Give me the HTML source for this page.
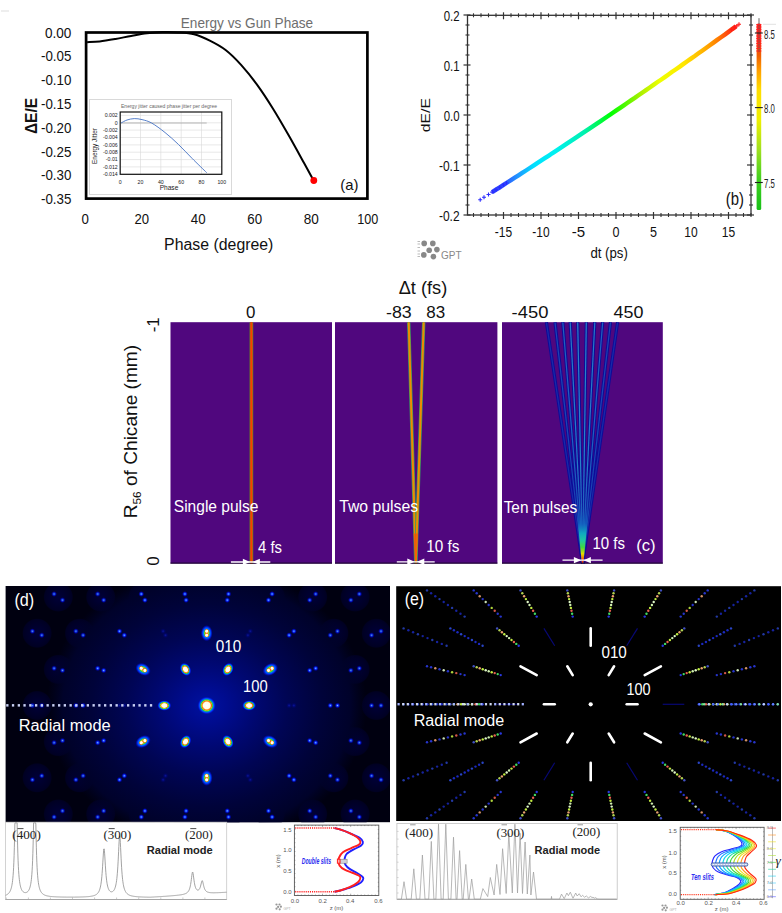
<!DOCTYPE html>
<html><head><meta charset="utf-8"><title>Figure</title>
<style>html,body{margin:0;padding:0;background:#fff;}body{width:782px;height:913px;overflow:hidden;}
svg{display:block;font-family:"Liberation Sans", sans-serif;}</style></head>
<body><svg width="782" height="913" viewBox="0 0 782 913">
<rect x="0" y="0" width="782" height="913" fill="#fff"/>
<line x1="1" y1="11" x2="9" y2="11" stroke="#ddd" stroke-width="1"/>
<text x="180.8" y="28" font-size="14.4" fill="#6e6e6e" textLength="132.4" lengthAdjust="spacingAndGlyphs">Energy vs Gun Phase</text>
<text x="71.4" y="37.7" font-size="14" fill="#111" text-anchor="end" textLength="26.4" lengthAdjust="spacingAndGlyphs">0.00</text>
<text x="71.4" y="61.4" font-size="14" fill="#111" text-anchor="end" textLength="30.4" lengthAdjust="spacingAndGlyphs">-0.05</text>
<text x="71.4" y="85.2" font-size="14" fill="#111" text-anchor="end" textLength="30.4" lengthAdjust="spacingAndGlyphs">-0.10</text>
<text x="71.4" y="109.0" font-size="14" fill="#111" text-anchor="end" textLength="30.4" lengthAdjust="spacingAndGlyphs">-0.15</text>
<text x="71.4" y="132.7" font-size="14" fill="#111" text-anchor="end" textLength="30.4" lengthAdjust="spacingAndGlyphs">-0.20</text>
<text x="71.4" y="156.5" font-size="14" fill="#111" text-anchor="end" textLength="30.4" lengthAdjust="spacingAndGlyphs">-0.25</text>
<text x="71.4" y="180.2" font-size="14" fill="#111" text-anchor="end" textLength="30.4" lengthAdjust="spacingAndGlyphs">-0.30</text>
<text x="71.4" y="204.0" font-size="14" fill="#111" text-anchor="end" textLength="30.4" lengthAdjust="spacingAndGlyphs">-0.35</text>
<text x="85.2" y="224.2" font-size="14" fill="#111" text-anchor="middle" textLength="7.4" lengthAdjust="spacingAndGlyphs">0</text>
<text x="141.7" y="224.2" font-size="14" fill="#111" text-anchor="middle" textLength="14.6" lengthAdjust="spacingAndGlyphs">20</text>
<text x="198.2" y="224.2" font-size="14" fill="#111" text-anchor="middle" textLength="14.8" lengthAdjust="spacingAndGlyphs">40</text>
<text x="254.7" y="224.2" font-size="14" fill="#111" text-anchor="middle" textLength="14.8" lengthAdjust="spacingAndGlyphs">60</text>
<text x="311.2" y="224.2" font-size="14" fill="#111" text-anchor="middle" textLength="15.1" lengthAdjust="spacingAndGlyphs">80</text>
<text x="367.7" y="224.2" font-size="14" fill="#111" text-anchor="middle" textLength="21.1" lengthAdjust="spacingAndGlyphs">100</text>
<text x="164.1" y="249.6" font-size="15.8" fill="#111" textLength="109.3" lengthAdjust="spacingAndGlyphs">Phase (degree)</text>
<text transform="translate(37,116) rotate(-90)" text-anchor="middle" font-size="16.5" font-weight="bold" fill="#111" textLength="36.2" lengthAdjust="spacingAndGlyphs">ΔE/E</text>
<path d="M87.10,42.20 C89.20,42.08 94.97,42.03 99.70,41.50 C104.43,40.97 110.25,39.93 115.50,39.00 C120.75,38.07 125.97,36.85 131.20,35.90 C136.43,34.95 141.67,33.93 146.90,33.30 C152.13,32.67 157.35,32.25 162.60,32.10 C167.85,31.95 173.15,32.03 178.40,32.40 C183.65,32.77 188.87,32.93 194.10,34.30 C199.33,35.67 204.55,37.98 209.80,40.60 C215.05,43.22 220.35,45.92 225.60,50.00 C230.85,54.08 236.07,59.33 241.30,65.10 C246.53,70.87 251.77,77.42 257.00,84.60 C262.23,91.78 267.45,99.80 272.70,108.20 C277.95,116.60 283.25,125.82 288.50,135.00 C293.75,144.18 300.02,155.70 304.20,163.30 C308.38,170.90 312.03,177.72 313.60,180.60" fill="none" stroke="#000" stroke-width="2"/>
<rect x="86.1" y="32.5" width="281.3" height="166.1" fill="none" stroke="#000" stroke-width="2.7"/>
<circle cx="313.8" cy="180.5" r="3.4" fill="#f00"/>
<text x="340.2" y="189.8" font-size="14.8" fill="#111" textLength="18.2" lengthAdjust="spacingAndGlyphs">(a)</text>
<rect x="89.5" y="99.5" width="142" height="95" fill="#fff" stroke="#d9d9d9" stroke-width="1"/>
<text x="121" y="107.5" font-size="5.9" fill="#666" textLength="96" lengthAdjust="spacingAndGlyphs">Energy jitter caused phase jitter per degree</text>
<line x1="140.5" y1="112" x2="140.5" y2="174.3" stroke="#d9d9d9" stroke-width="0.6"/>
<line x1="160.8" y1="112" x2="160.8" y2="174.3" stroke="#d9d9d9" stroke-width="0.6"/>
<line x1="181.2" y1="112" x2="181.2" y2="174.3" stroke="#d9d9d9" stroke-width="0.6"/>
<line x1="201.5" y1="112" x2="201.5" y2="174.3" stroke="#d9d9d9" stroke-width="0.6"/>
<line x1="120.2" y1="115.4" x2="221.8" y2="115.4" stroke="#d9d9d9" stroke-width="0.6"/>
<text x="117.7" y="117.2" text-anchor="end" font-size="5.2" fill="#222">0.002</text>
<line x1="120.2" y1="122.8" x2="221.8" y2="122.8" stroke="#d9d9d9" stroke-width="0.6"/>
<text x="117.7" y="124.6" text-anchor="end" font-size="5.2" fill="#222">0</text>
<line x1="120.2" y1="130.1" x2="221.8" y2="130.1" stroke="#d9d9d9" stroke-width="0.6"/>
<text x="117.7" y="131.9" text-anchor="end" font-size="5.2" fill="#222">-0.002</text>
<line x1="120.2" y1="137.5" x2="221.8" y2="137.5" stroke="#d9d9d9" stroke-width="0.6"/>
<text x="117.7" y="139.3" text-anchor="end" font-size="5.2" fill="#222">-0.004</text>
<line x1="120.2" y1="144.9" x2="221.8" y2="144.9" stroke="#d9d9d9" stroke-width="0.6"/>
<text x="117.7" y="146.7" text-anchor="end" font-size="5.2" fill="#222">-0.006</text>
<line x1="120.2" y1="152.2" x2="221.8" y2="152.2" stroke="#d9d9d9" stroke-width="0.6"/>
<text x="117.7" y="154.0" text-anchor="end" font-size="5.2" fill="#222">-0.008</text>
<line x1="120.2" y1="159.6" x2="221.8" y2="159.6" stroke="#d9d9d9" stroke-width="0.6"/>
<text x="117.7" y="161.4" text-anchor="end" font-size="5.2" fill="#222">-0.01</text>
<line x1="120.2" y1="166.9" x2="221.8" y2="166.9" stroke="#d9d9d9" stroke-width="0.6"/>
<text x="117.7" y="168.7" text-anchor="end" font-size="5.2" fill="#222">-0.012</text>
<line x1="120.2" y1="174.3" x2="221.8" y2="174.3" stroke="#d9d9d9" stroke-width="0.6"/>
<text x="117.7" y="176.1" text-anchor="end" font-size="5.2" fill="#222">-0.014</text>
<text x="120.2" y="184" text-anchor="middle" font-size="5.2" fill="#222">0</text>
<text x="140.5" y="184" text-anchor="middle" font-size="5.2" fill="#222">20</text>
<text x="160.8" y="184" text-anchor="middle" font-size="5.2" fill="#222">40</text>
<text x="181.2" y="184" text-anchor="middle" font-size="5.2" fill="#222">60</text>
<text x="201.5" y="184" text-anchor="middle" font-size="5.2" fill="#222">80</text>
<text x="221.8" y="184" text-anchor="middle" font-size="5.2" fill="#222">100</text>
<text x="169" y="190.3" text-anchor="middle" font-size="6.6" fill="#222">Phase</text>
<text transform="translate(97,146) rotate(-90)" text-anchor="middle" font-size="6.4" fill="#222">Energy Jitter</text>
<line x1="121.1" y1="123" x2="206.7" y2="123" stroke="#a6a6a6" stroke-width="0.8"/>
<path d="M121.10,123.00 C122.08,122.50 124.80,120.73 127.00,120.00 C129.20,119.27 131.80,118.67 134.30,118.60 C136.80,118.53 139.12,118.87 142.00,119.60 C144.88,120.33 147.77,120.85 151.60,123.00 C155.43,125.15 160.53,128.93 165.00,132.50 C169.47,136.07 173.90,140.10 178.40,144.40 C182.90,148.70 187.28,153.58 192.00,158.30 C196.72,163.02 204.25,170.30 206.70,172.70" fill="none" stroke="#4472c4" stroke-width="0.9"/>
<rect x="120.2" y="112" width="101.6" height="62.3" fill="none" stroke="#111" stroke-width="1.2"/>
<defs><linearGradient id="gb" gradientUnits="userSpaceOnUse" x1="480" y1="0" x2="739" y2="0"><stop offset="0.000" stop-color="#2828ff"/><stop offset="0.093" stop-color="#3050ff"/><stop offset="0.147" stop-color="#2098ff"/><stop offset="0.208" stop-color="#00e0ff"/><stop offset="0.290" stop-color="#00f0f0"/><stop offset="0.402" stop-color="#00f0b0"/><stop offset="0.506" stop-color="#00ff00"/><stop offset="0.625" stop-color="#b0f000"/><stop offset="0.695" stop-color="#eeff00"/><stop offset="0.784" stop-color="#ffe800"/><stop offset="0.865" stop-color="#ffb000"/><stop offset="0.915" stop-color="#ff8000"/><stop offset="0.961" stop-color="#ff4010"/><stop offset="1.000" stop-color="#ff1010"/></linearGradient></defs>
<path d="M492.2,192.1 L496.0,189.7 L499.8,187.3 L503.5,184.9 L507.2,182.5 L511.0,180.1 L514.8,177.7 L518.5,175.3 L522.2,172.9 L526.0,170.5 L529.8,168.0 L533.5,165.6 L537.2,163.1 L541.0,160.7 L544.8,158.2 L548.5,155.8 L552.2,153.3 L556.0,150.9 L559.8,148.4 L563.5,145.9 L567.2,143.4 L571.0,140.9 L574.8,138.4 L578.5,135.9 L582.2,133.4 L586.0,130.9 L589.8,128.4 L593.5,125.9 L597.2,123.4 L601.0,120.9 L604.8,118.3 L608.5,115.8 L612.2,113.2 L616.0,110.7 L619.8,108.1 L623.5,105.6 L627.2,103.0 L631.0,100.4 L634.8,97.9 L638.5,95.3 L642.2,92.7 L646.0,90.1 L649.8,87.5 L653.5,84.9 L657.2,82.3 L661.0,79.7 L664.8,77.1 L668.5,74.5 L672.2,71.8 L676.0,69.2 L679.8,66.6 L683.5,63.9 L687.2,61.3 L691.0,58.6 L694.8,56.0 L698.5,53.3 L702.2,50.7 L706.0,48.0 L709.8,45.3 L713.5,42.6 L717.2,39.9 L721.0,37.2 L724.8,34.6 L728.5,31.9 L732.2,29.1 L736.0,26.4" fill="none" stroke="url(#gb)" stroke-width="4.4"/>
<path d="M478.2,199.7 H482.2 M480.2,197.7 V201.7" stroke="#2a2aff" stroke-width="1.1"/>
<path d="M482.0,197.3 H486.0 M484.0,195.3 V199.3" stroke="#2a2aff" stroke-width="1.1"/>
<path d="M486.5,194.5 H490.5 M488.5,192.5 V196.5" stroke="#2a2aff" stroke-width="1.1"/>
<path d="M490.2,192.1 H494.2 M492.2,190.1 V194.1" stroke="#2a2aff" stroke-width="1.1"/>
<path d="M494.0,189.7 H498.0 M496.0,187.7 V191.7" stroke="#2a2aff" stroke-width="1.1"/>
<path d="M497.8,187.3 H501.8 M499.8,185.3 V189.3" stroke="#2a2aff" stroke-width="1.1"/>
<path d="M501.5,184.9 H505.5 M503.5,182.9 V186.9" stroke="#2a2aff" stroke-width="1.1"/>
<path d="M504.5,183.0 H508.5 M506.5,181.0 V185.0" stroke="#2a2aff" stroke-width="1.1"/>
<path d="M729.5,29.7 H733.5 M731.5,27.7 V31.7" stroke="#ff1a1a" stroke-width="1.1"/>
<path d="M732.5,27.5 H736.5 M734.5,25.5 V29.5" stroke="#ff1a1a" stroke-width="1.1"/>
<path d="M734.8,25.9 H738.8 M736.8,23.9 V27.9" stroke="#ff1a1a" stroke-width="1.1"/>
<path d="M737.0,24.3 H741.0 M739.0,22.3 V26.3" stroke="#ff1a1a" stroke-width="1.1"/>
<rect x="467.5" y="15.3" width="283.5" height="199.7" fill="none" stroke="#333" stroke-width="1.3"/>
<line x1="473.5" y1="213" x2="473.5" y2="217" stroke="#333" stroke-width="1.1"/>
<line x1="473.5" y1="13.3" x2="473.5" y2="17.3" stroke="#333" stroke-width="1.1"/>
<line x1="481.0" y1="213" x2="481.0" y2="217" stroke="#333" stroke-width="1.1"/>
<line x1="481.0" y1="13.3" x2="481.0" y2="17.3" stroke="#333" stroke-width="1.1"/>
<line x1="488.5" y1="213" x2="488.5" y2="217" stroke="#333" stroke-width="1.1"/>
<line x1="488.5" y1="13.3" x2="488.5" y2="17.3" stroke="#333" stroke-width="1.1"/>
<line x1="496.0" y1="213" x2="496.0" y2="217" stroke="#333" stroke-width="1.1"/>
<line x1="496.0" y1="13.3" x2="496.0" y2="17.3" stroke="#333" stroke-width="1.1"/>
<line x1="503.5" y1="212" x2="503.5" y2="219" stroke="#333" stroke-width="1.2"/>
<line x1="503.5" y1="12.3" x2="503.5" y2="19.3" stroke="#333" stroke-width="1.2"/>
<line x1="511.0" y1="213" x2="511.0" y2="217" stroke="#333" stroke-width="1.1"/>
<line x1="511.0" y1="13.3" x2="511.0" y2="17.3" stroke="#333" stroke-width="1.1"/>
<line x1="518.5" y1="213" x2="518.5" y2="217" stroke="#333" stroke-width="1.1"/>
<line x1="518.5" y1="13.3" x2="518.5" y2="17.3" stroke="#333" stroke-width="1.1"/>
<line x1="526.0" y1="213" x2="526.0" y2="217" stroke="#333" stroke-width="1.1"/>
<line x1="526.0" y1="13.3" x2="526.0" y2="17.3" stroke="#333" stroke-width="1.1"/>
<line x1="533.5" y1="213" x2="533.5" y2="217" stroke="#333" stroke-width="1.1"/>
<line x1="533.5" y1="13.3" x2="533.5" y2="17.3" stroke="#333" stroke-width="1.1"/>
<line x1="541.0" y1="212" x2="541.0" y2="219" stroke="#333" stroke-width="1.2"/>
<line x1="541.0" y1="12.3" x2="541.0" y2="19.3" stroke="#333" stroke-width="1.2"/>
<line x1="548.5" y1="213" x2="548.5" y2="217" stroke="#333" stroke-width="1.1"/>
<line x1="548.5" y1="13.3" x2="548.5" y2="17.3" stroke="#333" stroke-width="1.1"/>
<line x1="556.0" y1="213" x2="556.0" y2="217" stroke="#333" stroke-width="1.1"/>
<line x1="556.0" y1="13.3" x2="556.0" y2="17.3" stroke="#333" stroke-width="1.1"/>
<line x1="563.5" y1="213" x2="563.5" y2="217" stroke="#333" stroke-width="1.1"/>
<line x1="563.5" y1="13.3" x2="563.5" y2="17.3" stroke="#333" stroke-width="1.1"/>
<line x1="571.0" y1="213" x2="571.0" y2="217" stroke="#333" stroke-width="1.1"/>
<line x1="571.0" y1="13.3" x2="571.0" y2="17.3" stroke="#333" stroke-width="1.1"/>
<line x1="578.5" y1="212" x2="578.5" y2="219" stroke="#333" stroke-width="1.2"/>
<line x1="578.5" y1="12.3" x2="578.5" y2="19.3" stroke="#333" stroke-width="1.2"/>
<line x1="586.0" y1="213" x2="586.0" y2="217" stroke="#333" stroke-width="1.1"/>
<line x1="586.0" y1="13.3" x2="586.0" y2="17.3" stroke="#333" stroke-width="1.1"/>
<line x1="593.5" y1="213" x2="593.5" y2="217" stroke="#333" stroke-width="1.1"/>
<line x1="593.5" y1="13.3" x2="593.5" y2="17.3" stroke="#333" stroke-width="1.1"/>
<line x1="601.0" y1="213" x2="601.0" y2="217" stroke="#333" stroke-width="1.1"/>
<line x1="601.0" y1="13.3" x2="601.0" y2="17.3" stroke="#333" stroke-width="1.1"/>
<line x1="608.5" y1="213" x2="608.5" y2="217" stroke="#333" stroke-width="1.1"/>
<line x1="608.5" y1="13.3" x2="608.5" y2="17.3" stroke="#333" stroke-width="1.1"/>
<line x1="616.0" y1="212" x2="616.0" y2="219" stroke="#333" stroke-width="1.2"/>
<line x1="616.0" y1="12.3" x2="616.0" y2="19.3" stroke="#333" stroke-width="1.2"/>
<line x1="623.5" y1="213" x2="623.5" y2="217" stroke="#333" stroke-width="1.1"/>
<line x1="623.5" y1="13.3" x2="623.5" y2="17.3" stroke="#333" stroke-width="1.1"/>
<line x1="631.0" y1="213" x2="631.0" y2="217" stroke="#333" stroke-width="1.1"/>
<line x1="631.0" y1="13.3" x2="631.0" y2="17.3" stroke="#333" stroke-width="1.1"/>
<line x1="638.5" y1="213" x2="638.5" y2="217" stroke="#333" stroke-width="1.1"/>
<line x1="638.5" y1="13.3" x2="638.5" y2="17.3" stroke="#333" stroke-width="1.1"/>
<line x1="646.0" y1="213" x2="646.0" y2="217" stroke="#333" stroke-width="1.1"/>
<line x1="646.0" y1="13.3" x2="646.0" y2="17.3" stroke="#333" stroke-width="1.1"/>
<line x1="653.5" y1="212" x2="653.5" y2="219" stroke="#333" stroke-width="1.2"/>
<line x1="653.5" y1="12.3" x2="653.5" y2="19.3" stroke="#333" stroke-width="1.2"/>
<line x1="661.0" y1="213" x2="661.0" y2="217" stroke="#333" stroke-width="1.1"/>
<line x1="661.0" y1="13.3" x2="661.0" y2="17.3" stroke="#333" stroke-width="1.1"/>
<line x1="668.5" y1="213" x2="668.5" y2="217" stroke="#333" stroke-width="1.1"/>
<line x1="668.5" y1="13.3" x2="668.5" y2="17.3" stroke="#333" stroke-width="1.1"/>
<line x1="676.0" y1="213" x2="676.0" y2="217" stroke="#333" stroke-width="1.1"/>
<line x1="676.0" y1="13.3" x2="676.0" y2="17.3" stroke="#333" stroke-width="1.1"/>
<line x1="683.5" y1="213" x2="683.5" y2="217" stroke="#333" stroke-width="1.1"/>
<line x1="683.5" y1="13.3" x2="683.5" y2="17.3" stroke="#333" stroke-width="1.1"/>
<line x1="691.0" y1="212" x2="691.0" y2="219" stroke="#333" stroke-width="1.2"/>
<line x1="691.0" y1="12.3" x2="691.0" y2="19.3" stroke="#333" stroke-width="1.2"/>
<line x1="698.5" y1="213" x2="698.5" y2="217" stroke="#333" stroke-width="1.1"/>
<line x1="698.5" y1="13.3" x2="698.5" y2="17.3" stroke="#333" stroke-width="1.1"/>
<line x1="706.0" y1="213" x2="706.0" y2="217" stroke="#333" stroke-width="1.1"/>
<line x1="706.0" y1="13.3" x2="706.0" y2="17.3" stroke="#333" stroke-width="1.1"/>
<line x1="713.5" y1="213" x2="713.5" y2="217" stroke="#333" stroke-width="1.1"/>
<line x1="713.5" y1="13.3" x2="713.5" y2="17.3" stroke="#333" stroke-width="1.1"/>
<line x1="721.0" y1="213" x2="721.0" y2="217" stroke="#333" stroke-width="1.1"/>
<line x1="721.0" y1="13.3" x2="721.0" y2="17.3" stroke="#333" stroke-width="1.1"/>
<line x1="728.5" y1="212" x2="728.5" y2="219" stroke="#333" stroke-width="1.2"/>
<line x1="728.5" y1="12.3" x2="728.5" y2="19.3" stroke="#333" stroke-width="1.2"/>
<line x1="736.0" y1="213" x2="736.0" y2="217" stroke="#333" stroke-width="1.1"/>
<line x1="736.0" y1="13.3" x2="736.0" y2="17.3" stroke="#333" stroke-width="1.1"/>
<line x1="743.5" y1="213" x2="743.5" y2="217" stroke="#333" stroke-width="1.1"/>
<line x1="743.5" y1="13.3" x2="743.5" y2="17.3" stroke="#333" stroke-width="1.1"/>
<line x1="751.0" y1="213" x2="751.0" y2="217" stroke="#333" stroke-width="1.1"/>
<line x1="751.0" y1="13.3" x2="751.0" y2="17.3" stroke="#333" stroke-width="1.1"/>
<text x="503.5" y="236.5" font-size="15" fill="#111" text-anchor="middle" textLength="17.3" lengthAdjust="spacingAndGlyphs">-15</text>
<text x="541.0" y="236.5" font-size="15" fill="#111" text-anchor="middle" textLength="17.3" lengthAdjust="spacingAndGlyphs">-10</text>
<text x="578.5" y="236.5" font-size="15" fill="#111" text-anchor="middle" textLength="13.4" lengthAdjust="spacingAndGlyphs">-5</text>
<text x="616.0" y="236.5" font-size="15" fill="#111" text-anchor="middle" textLength="7.0" lengthAdjust="spacingAndGlyphs">0</text>
<text x="653.5" y="236.5" font-size="15" fill="#111" text-anchor="middle" textLength="7.0" lengthAdjust="spacingAndGlyphs">5</text>
<text x="691.0" y="236.5" font-size="15" fill="#111" text-anchor="middle" textLength="13.4" lengthAdjust="spacingAndGlyphs">10</text>
<text x="728.5" y="236.5" font-size="15" fill="#111" text-anchor="middle" textLength="13.4" lengthAdjust="spacingAndGlyphs">15</text>
<text x="590.4" y="257.5" font-size="14" fill="#111" textLength="37.4" lengthAdjust="spacingAndGlyphs">dt (ps)</text>
<line x1="463.5" y1="215.0" x2="470.5" y2="215.0" stroke="#333" stroke-width="1.2"/>
<line x1="747" y1="215.0" x2="754" y2="215.0" stroke="#333" stroke-width="1.2"/>
<line x1="465.5" y1="205.0" x2="469.5" y2="205.0" stroke="#333" stroke-width="1.1"/>
<line x1="749" y1="205.0" x2="753" y2="205.0" stroke="#333" stroke-width="1.1"/>
<line x1="465.5" y1="195.0" x2="469.5" y2="195.0" stroke="#333" stroke-width="1.1"/>
<line x1="749" y1="195.0" x2="753" y2="195.0" stroke="#333" stroke-width="1.1"/>
<line x1="465.5" y1="185.0" x2="469.5" y2="185.0" stroke="#333" stroke-width="1.1"/>
<line x1="749" y1="185.0" x2="753" y2="185.0" stroke="#333" stroke-width="1.1"/>
<line x1="465.5" y1="175.0" x2="469.5" y2="175.0" stroke="#333" stroke-width="1.1"/>
<line x1="749" y1="175.0" x2="753" y2="175.0" stroke="#333" stroke-width="1.1"/>
<line x1="463.5" y1="165.0" x2="470.5" y2="165.0" stroke="#333" stroke-width="1.2"/>
<line x1="747" y1="165.0" x2="754" y2="165.0" stroke="#333" stroke-width="1.2"/>
<line x1="465.5" y1="155.0" x2="469.5" y2="155.0" stroke="#333" stroke-width="1.1"/>
<line x1="749" y1="155.0" x2="753" y2="155.0" stroke="#333" stroke-width="1.1"/>
<line x1="465.5" y1="145.0" x2="469.5" y2="145.0" stroke="#333" stroke-width="1.1"/>
<line x1="749" y1="145.0" x2="753" y2="145.0" stroke="#333" stroke-width="1.1"/>
<line x1="465.5" y1="135.0" x2="469.5" y2="135.0" stroke="#333" stroke-width="1.1"/>
<line x1="749" y1="135.0" x2="753" y2="135.0" stroke="#333" stroke-width="1.1"/>
<line x1="465.5" y1="125.0" x2="469.5" y2="125.0" stroke="#333" stroke-width="1.1"/>
<line x1="749" y1="125.0" x2="753" y2="125.0" stroke="#333" stroke-width="1.1"/>
<line x1="463.5" y1="115.0" x2="470.5" y2="115.0" stroke="#333" stroke-width="1.2"/>
<line x1="747" y1="115.0" x2="754" y2="115.0" stroke="#333" stroke-width="1.2"/>
<line x1="465.5" y1="105.0" x2="469.5" y2="105.0" stroke="#333" stroke-width="1.1"/>
<line x1="749" y1="105.0" x2="753" y2="105.0" stroke="#333" stroke-width="1.1"/>
<line x1="465.5" y1="95.0" x2="469.5" y2="95.0" stroke="#333" stroke-width="1.1"/>
<line x1="749" y1="95.0" x2="753" y2="95.0" stroke="#333" stroke-width="1.1"/>
<line x1="465.5" y1="85.0" x2="469.5" y2="85.0" stroke="#333" stroke-width="1.1"/>
<line x1="749" y1="85.0" x2="753" y2="85.0" stroke="#333" stroke-width="1.1"/>
<line x1="465.5" y1="75.0" x2="469.5" y2="75.0" stroke="#333" stroke-width="1.1"/>
<line x1="749" y1="75.0" x2="753" y2="75.0" stroke="#333" stroke-width="1.1"/>
<line x1="463.5" y1="65.0" x2="470.5" y2="65.0" stroke="#333" stroke-width="1.2"/>
<line x1="747" y1="65.0" x2="754" y2="65.0" stroke="#333" stroke-width="1.2"/>
<line x1="465.5" y1="55.0" x2="469.5" y2="55.0" stroke="#333" stroke-width="1.1"/>
<line x1="749" y1="55.0" x2="753" y2="55.0" stroke="#333" stroke-width="1.1"/>
<line x1="465.5" y1="45.0" x2="469.5" y2="45.0" stroke="#333" stroke-width="1.1"/>
<line x1="749" y1="45.0" x2="753" y2="45.0" stroke="#333" stroke-width="1.1"/>
<line x1="465.5" y1="35.0" x2="469.5" y2="35.0" stroke="#333" stroke-width="1.1"/>
<line x1="749" y1="35.0" x2="753" y2="35.0" stroke="#333" stroke-width="1.1"/>
<line x1="465.5" y1="25.0" x2="469.5" y2="25.0" stroke="#333" stroke-width="1.1"/>
<line x1="749" y1="25.0" x2="753" y2="25.0" stroke="#333" stroke-width="1.1"/>
<line x1="463.5" y1="15.0" x2="470.5" y2="15.0" stroke="#333" stroke-width="1.2"/>
<line x1="747" y1="15.0" x2="754" y2="15.0" stroke="#333" stroke-width="1.2"/>
<text x="459.6" y="20.6" font-size="15" fill="#111" text-anchor="end" textLength="15.9" lengthAdjust="spacingAndGlyphs">0.2</text>
<text x="459.6" y="70.6" font-size="15" fill="#111" text-anchor="end" textLength="15.9" lengthAdjust="spacingAndGlyphs">0.1</text>
<text x="459.6" y="120.6" font-size="15" fill="#111" text-anchor="end" textLength="15.9" lengthAdjust="spacingAndGlyphs">0.0</text>
<text x="459.6" y="170.6" font-size="15" fill="#111" text-anchor="end" textLength="20.7" lengthAdjust="spacingAndGlyphs">-0.1</text>
<text x="459.6" y="220.6" font-size="15" fill="#111" text-anchor="end" textLength="20.7" lengthAdjust="spacingAndGlyphs">-0.2</text>
<text transform="translate(430.1,115.2) rotate(-90)" text-anchor="middle" font-size="13.7" fill="#111" textLength="34.3" lengthAdjust="spacingAndGlyphs">dE/E</text>
<text x="725.8" y="204.8" font-size="18" fill="#111" textLength="18.2" lengthAdjust="spacingAndGlyphs">(b)</text>
<defs><linearGradient id="cb" gradientUnits="userSpaceOnUse" x1="0" y1="210" x2="0" y2="22"><stop offset="0" stop-color="#18c018"/><stop offset="0.16" stop-color="#40d020"/><stop offset="0.32" stop-color="#a0e020"/><stop offset="0.48" stop-color="#f0f000"/><stop offset="0.64" stop-color="#ffdd00"/><stop offset="0.74" stop-color="#ffa000"/><stop offset="0.82" stop-color="#f06000"/><stop offset="0.9" stop-color="#ff3020"/><stop offset="1" stop-color="#ff2020"/></linearGradient></defs>
<rect x="756.6" y="23.5" width="4.6" height="186.5" rx="1.5" fill="url(#cb)"/>
<line x1="759" y1="18.2" x2="759" y2="52" stroke="#555" stroke-width="0.9"/>
<line x1="756.2" y1="24.5" x2="761.4" y2="24.5" stroke="#ff2020" stroke-width="0.9"/>
<line x1="756.2" y1="27" x2="761.4" y2="27" stroke="#ff2020" stroke-width="0.9"/>
<line x1="756.2" y1="29.5" x2="761.4" y2="29.5" stroke="#ff2020" stroke-width="0.9"/>
<line x1="756.2" y1="32" x2="761.4" y2="32" stroke="#ff2020" stroke-width="0.9"/>
<line x1="756.2" y1="36" x2="761.4" y2="36" stroke="#ff2020" stroke-width="0.9"/>
<line x1="756.2" y1="38.5" x2="761.4" y2="38.5" stroke="#ff2020" stroke-width="0.9"/>
<line x1="756.2" y1="41" x2="761.4" y2="41" stroke="#ff2020" stroke-width="0.9"/>
<line x1="756.2" y1="43.5" x2="761.4" y2="43.5" stroke="#ff2020" stroke-width="0.9"/>
<line x1="756.2" y1="46" x2="761.4" y2="46" stroke="#ff2020" stroke-width="0.9"/>
<line x1="756.2" y1="48.5" x2="761.4" y2="48.5" stroke="#ff2020" stroke-width="0.9"/>
<line x1="756.2" y1="51" x2="761.4" y2="51" stroke="#ff2020" stroke-width="0.9"/>
<line x1="754.9" y1="33.0" x2="762.8" y2="33.0" stroke="#222" stroke-width="1.1"/>
<text x="764.1" y="38.6" font-size="13.7" fill="#222" textLength="10.8" lengthAdjust="spacingAndGlyphs">8.5</text>
<line x1="754.9" y1="107.6" x2="762.8" y2="107.6" stroke="#222" stroke-width="1.1"/>
<text x="764.1" y="113.2" font-size="13.7" fill="#222" textLength="10.8" lengthAdjust="spacingAndGlyphs">8.0</text>
<line x1="754.9" y1="182.5" x2="762.8" y2="182.5" stroke="#222" stroke-width="1.1"/>
<text x="764.1" y="188.1" font-size="13.7" fill="#222" textLength="10.8" lengthAdjust="spacingAndGlyphs">7.5</text>
<line x1="763" y1="24.3" x2="776" y2="24.3" stroke="#ccc" stroke-width="0.6"/>
<circle cx="424.2" cy="243.4" r="2.8" fill="#888"/>
<circle cx="432.8" cy="243.4" r="2.8" fill="#888"/>
<circle cx="429.2" cy="250.3" r="2.8" fill="#888"/>
<circle cx="436.9" cy="249.6" r="2.8" fill="#888"/>
<circle cx="423.8" cy="254.9" r="2.8" fill="#888"/>
<circle cx="433.4" cy="256.6" r="2.8" fill="#888"/>
<line x1="417.5" y1="241.5" x2="420" y2="241.5" stroke="#aaa" stroke-width="0.8"/>
<line x1="417.5" y1="244" x2="420" y2="244" stroke="#aaa" stroke-width="0.8"/>
<line x1="417.5" y1="247.5" x2="420" y2="247.5" stroke="#aaa" stroke-width="0.8"/>
<line x1="417.5" y1="251" x2="420" y2="251" stroke="#aaa" stroke-width="0.8"/>
<line x1="417.5" y1="254" x2="420" y2="254" stroke="#aaa" stroke-width="0.8"/>
<line x1="417.5" y1="256.5" x2="420" y2="256.5" stroke="#aaa" stroke-width="0.8"/>
<text x="441" y="259" font-size="10" fill="#888">GPT</text>
<text x="398.7" y="294" font-size="17.5" fill="#111" textLength="48.5" lengthAdjust="spacingAndGlyphs">Δt (fs)</text>
<text transform="translate(136.5,518.3) rotate(-90)" font-size="18.5" fill="#111" textLength="173.4" lengthAdjust="spacingAndGlyphs">R<tspan font-size="11.5" dy="4">56</tspan><tspan dy="-4"> of Chicane (mm)</tspan></text>
<text transform="translate(158.8,324.8) rotate(-90)" text-anchor="middle" font-size="17" fill="#111">-1</text>
<text transform="translate(158.8,561) rotate(-90)" text-anchor="middle" font-size="17" fill="#111">0</text>
<rect x="170.5" y="322.2" width="161.5" height="241.4" fill="#50077e"/>
<rect x="335" y="322.2" width="162.4" height="241.4" fill="#50077e"/>
<rect x="502" y="322.2" width="160.8" height="241.4" fill="#50077e"/>
<text x="245.9" y="318" font-size="17" fill="#111" textLength="9.4" lengthAdjust="spacingAndGlyphs">0</text>
<text x="386" y="318" font-size="17" fill="#111" textLength="25.7" lengthAdjust="spacingAndGlyphs">-83</text>
<text x="426.2" y="318" font-size="17" fill="#111" textLength="18.9" lengthAdjust="spacingAndGlyphs">83</text>
<text x="511.6" y="318" font-size="17" fill="#111" textLength="36.8" lengthAdjust="spacingAndGlyphs">-450</text>
<text x="613.6" y="318" font-size="17" fill="#111" textLength="29.9" lengthAdjust="spacingAndGlyphs">450</text>
<line x1="251.4" y1="322.2" x2="251.4" y2="563.6" stroke="#6a8a20" stroke-width="3.6"/>
<line x1="251.4" y1="322.2" x2="251.4" y2="563.6" stroke="#ff3a00" stroke-width="2"/>
<line x1="408.7" y1="322.2" x2="415.8" y2="563.6" stroke="#3a9a60" stroke-width="3.4"/>
<line x1="408.7" y1="322.2" x2="415.8" y2="563.6" stroke="#f08a00" stroke-width="2"/>
<line x1="423.7" y1="322.2" x2="415.8" y2="563.6" stroke="#3a9a60" stroke-width="3.4"/>
<line x1="423.7" y1="322.2" x2="415.8" y2="563.6" stroke="#f08a00" stroke-width="2"/>
<path d="M413.5,533.6 L418,533.6 L416.5,563.6 L415,563.6 Z" fill="#ff5000" opacity="0.7"/>
<defs><linearGradient id="cone" gradientUnits="userSpaceOnUse" x1="0" y1="470" x2="0" y2="563"><stop offset="0" stop-color="#0a1aa0" stop-opacity="0.0"/><stop offset="0.4" stop-color="#0c2aa8" stop-opacity="0.35"/><stop offset="0.58" stop-color="#1060c0" stop-opacity="0.8"/><stop offset="0.68" stop-color="#10a8c0"/><stop offset="0.76" stop-color="#20c8a0"/><stop offset="0.83" stop-color="#40d840"/><stop offset="0.9" stop-color="#e0e000"/><stop offset="0.96" stop-color="#ff6000"/><stop offset="1" stop-color="#ff2000"/></linearGradient></defs>
<line x1="546.4" y1="322.2" x2="582.6" y2="563.6" stroke="#0c0c98" stroke-width="3.2"/>
<line x1="555" y1="322.2" x2="582.6" y2="563.6" stroke="#0c0c98" stroke-width="3.2"/>
<line x1="562.8" y1="322.2" x2="582.6" y2="563.6" stroke="#0c0c98" stroke-width="3.2"/>
<line x1="570.2" y1="322.2" x2="582.6" y2="563.6" stroke="#0c0c98" stroke-width="3.2"/>
<line x1="577.7" y1="322.2" x2="582.6" y2="563.6" stroke="#0c0c98" stroke-width="3.2"/>
<line x1="586.3" y1="322.2" x2="582.6" y2="563.6" stroke="#0c0c98" stroke-width="3.2"/>
<line x1="594.8" y1="322.2" x2="582.6" y2="563.6" stroke="#0c0c98" stroke-width="3.2"/>
<line x1="602.7" y1="322.2" x2="582.6" y2="563.6" stroke="#0c0c98" stroke-width="3.2"/>
<line x1="610.5" y1="322.2" x2="582.6" y2="563.6" stroke="#0c0c98" stroke-width="3.2"/>
<line x1="617.6" y1="322.2" x2="582.6" y2="563.6" stroke="#0c0c98" stroke-width="3.2"/>
<line x1="546.4" y1="322.2" x2="582.6" y2="563.6" stroke="#1a2aa8" stroke-width="1.2"/>
<line x1="555" y1="322.2" x2="582.6" y2="563.6" stroke="#1c44b4" stroke-width="1.2"/>
<line x1="562.8" y1="322.2" x2="582.6" y2="563.6" stroke="#2060c0" stroke-width="1.2"/>
<line x1="570.2" y1="322.2" x2="582.6" y2="563.6" stroke="#2878c8" stroke-width="1.2"/>
<line x1="577.7" y1="322.2" x2="582.6" y2="563.6" stroke="#2a80c8" stroke-width="1.2"/>
<line x1="586.3" y1="322.2" x2="582.6" y2="563.6" stroke="#2a80c8" stroke-width="1.2"/>
<line x1="594.8" y1="322.2" x2="582.6" y2="563.6" stroke="#2878c8" stroke-width="1.2"/>
<line x1="602.7" y1="322.2" x2="582.6" y2="563.6" stroke="#2060c0" stroke-width="1.2"/>
<line x1="610.5" y1="322.2" x2="582.6" y2="563.6" stroke="#1c44b4" stroke-width="1.2"/>
<line x1="617.6" y1="322.2" x2="582.6" y2="563.6" stroke="#1a2aa8" stroke-width="1.2"/>
<path d="M572.5,470 L593,470 L583.3,563.6 L581.9,563.6 Z" fill="url(#cone)"/>
<line x1="170.5" y1="563.1" x2="332" y2="563.1" stroke="#180828" stroke-width="1"/>
<line x1="335" y1="563.1" x2="497.4" y2="563.1" stroke="#180828" stroke-width="1"/>
<line x1="502" y1="563.1" x2="662.8" y2="563.1" stroke="#180828" stroke-width="1"/>
<text x="173.8" y="512.4" font-size="17" fill="#fff" textLength="84.7" lengthAdjust="spacingAndGlyphs">Single pulse</text>
<text x="339.2" y="512.4" font-size="17" fill="#fff" textLength="79" lengthAdjust="spacingAndGlyphs">Two pulses</text>
<text x="503.7" y="512.6" font-size="17" fill="#fff" textLength="73.5" lengthAdjust="spacingAndGlyphs">Ten pulses</text>
<text x="258" y="553.3" font-size="15.7" fill="#fff" textLength="24" lengthAdjust="spacingAndGlyphs">4 fs</text>
<text x="426.2" y="551.8" font-size="15.7" fill="#fff" textLength="33.2" lengthAdjust="spacingAndGlyphs">10 fs</text>
<text x="592.4" y="549.4" font-size="15.7" fill="#fff" textLength="32.5" lengthAdjust="spacingAndGlyphs">10 fs</text>
<text x="636.2" y="551.2" font-size="16.5" fill="#fff" textLength="19.4" lengthAdjust="spacingAndGlyphs">(c)</text>
<line x1="230.9" y1="562.0" x2="270.3" y2="562.0" stroke="#fff" stroke-width="1.3"/>
<path d="M250.20000000000002,562.0 L242.9,558.7 L242.9,565.1 Z" fill="#fff"/>
<path d="M252.6,562.0 L259.9,558.7 L259.9,565.1 Z" fill="#fff"/>
<line x1="396.8" y1="561.8" x2="434.7" y2="561.8" stroke="#fff" stroke-width="1.3"/>
<path d="M414.6,561.8 L407.3,558.5 L407.3,564.9 Z" fill="#fff"/>
<path d="M417.0,561.8 L424.3,558.5 L424.3,564.9 Z" fill="#fff"/>
<line x1="562.5" y1="560.2" x2="602.6" y2="560.2" stroke="#fff" stroke-width="1.3"/>
<path d="M581.1999999999999,560.2 L573.9,556.9000000000001 L573.9,563.3000000000001 Z" fill="#fff"/>
<path d="M583.6,560.2 L590.9,556.9000000000001 L590.9,563.3000000000001 Z" fill="#fff"/>
<defs><clipPath id="cd"><rect x="5.6" y="586" width="384.4" height="236.2"/></clipPath><radialGradient id="dbg"><stop offset="0" stop-color="#0012a0"/><stop offset="0.12" stop-color="#000c90"/><stop offset="0.3" stop-color="#000872"/><stop offset="0.5" stop-color="#000554"/><stop offset="0.72" stop-color="#00033a"/><stop offset="0.9" stop-color="#00022a"/><stop offset="1" stop-color="#000226" stop-opacity="0"/></radialGradient><radialGradient id="halo"><stop offset="0" stop-color="#000038"/><stop offset="0.8" stop-color="#000026"/><stop offset="0.92" stop-color="#000022"/><stop offset="1" stop-color="#000020" stop-opacity="0"/></radialGradient><radialGradient id="dfaint"><stop offset="0" stop-color="#1828e0" stop-opacity="0.8"/><stop offset="0.5" stop-color="#0008b0" stop-opacity="0.4"/><stop offset="1" stop-color="#000080" stop-opacity="0"/></radialGradient><radialGradient id="dmed"><stop offset="0" stop-color="#80c0ff"/><stop offset="0.2" stop-color="#3070ff"/><stop offset="0.45" stop-color="#0a20f0"/><stop offset="0.7" stop-color="#0008c0" stop-opacity="0.55"/><stop offset="1" stop-color="#000090" stop-opacity="0"/></radialGradient><radialGradient id="dbright"><stop offset="0" stop-color="#ffffff"/><stop offset="0.36" stop-color="#fffce8"/><stop offset="0.44" stop-color="#ffb040"/><stop offset="0.5" stop-color="#ff5020"/><stop offset="0.56" stop-color="#a0e020"/><stop offset="0.62" stop-color="#20d040"/><stop offset="0.7" stop-color="#0070ff"/><stop offset="0.8" stop-color="#0030f0"/><stop offset="0.9" stop-color="#0010c0" stop-opacity="0.6"/><stop offset="1" stop-color="#0000a0" stop-opacity="0"/></radialGradient><radialGradient id="dglow"><stop offset="0" stop-color="#ff5020"/><stop offset="0.3" stop-color="#a0e020"/><stop offset="0.42" stop-color="#20d040"/><stop offset="0.55" stop-color="#0070ff"/><stop offset="0.72" stop-color="#0030f0"/><stop offset="0.87" stop-color="#0010c0" stop-opacity="0.6"/><stop offset="1" stop-color="#0000a0" stop-opacity="0"/></radialGradient><radialGradient id="dcore"><stop offset="0" stop-color="#ffffff"/><stop offset="0.5" stop-color="#fffce8"/><stop offset="0.7" stop-color="#ffb040"/><stop offset="0.88" stop-color="#ff5020" stop-opacity="0.8"/><stop offset="1" stop-color="#ff5020" stop-opacity="0"/></radialGradient></defs>
<rect x="5.6" y="586" width="384.4" height="236.2" fill="#000010"/>
<g clip-path="url(#cd)">
<circle cx="58.3" cy="597.0" r="15" fill="url(#halo)"/>
<circle cx="100.7" cy="597.0" r="15" fill="url(#halo)"/>
<circle cx="143.1" cy="597.0" r="15" fill="url(#halo)"/>
<circle cx="185.5" cy="597.0" r="15" fill="url(#halo)"/>
<circle cx="227.9" cy="597.0" r="15" fill="url(#halo)"/>
<circle cx="270.3" cy="597.0" r="15" fill="url(#halo)"/>
<circle cx="312.7" cy="597.0" r="15" fill="url(#halo)"/>
<circle cx="355.1" cy="597.0" r="15" fill="url(#halo)"/>
<circle cx="37.1" cy="633.2" r="15" fill="url(#halo)"/>
<circle cx="79.5" cy="633.2" r="15" fill="url(#halo)"/>
<circle cx="121.9" cy="633.2" r="15" fill="url(#halo)"/>
<circle cx="164.3" cy="633.2" r="20" fill="url(#halo)"/>
<circle cx="206.7" cy="633.2" r="20" fill="url(#halo)"/>
<circle cx="249.1" cy="633.2" r="20" fill="url(#halo)"/>
<circle cx="291.5" cy="633.2" r="15" fill="url(#halo)"/>
<circle cx="333.9" cy="633.2" r="15" fill="url(#halo)"/>
<circle cx="376.3" cy="633.2" r="15" fill="url(#halo)"/>
<circle cx="58.3" cy="669.4" r="15" fill="url(#halo)"/>
<circle cx="100.7" cy="669.4" r="15" fill="url(#halo)"/>
<circle cx="143.1" cy="669.4" r="20" fill="url(#halo)"/>
<circle cx="185.5" cy="669.4" r="20" fill="url(#halo)"/>
<circle cx="227.9" cy="669.4" r="20" fill="url(#halo)"/>
<circle cx="270.3" cy="669.4" r="20" fill="url(#halo)"/>
<circle cx="312.7" cy="669.4" r="15" fill="url(#halo)"/>
<circle cx="355.1" cy="669.4" r="15" fill="url(#halo)"/>
<circle cx="37.1" cy="705.5" r="15" fill="url(#halo)"/>
<circle cx="79.5" cy="705.5" r="15" fill="url(#halo)"/>
<circle cx="121.9" cy="705.5" r="20" fill="url(#halo)"/>
<circle cx="164.3" cy="705.5" r="20" fill="url(#halo)"/>
<circle cx="249.1" cy="705.5" r="20" fill="url(#halo)"/>
<circle cx="291.5" cy="705.5" r="20" fill="url(#halo)"/>
<circle cx="333.9" cy="705.5" r="15" fill="url(#halo)"/>
<circle cx="376.3" cy="705.5" r="15" fill="url(#halo)"/>
<circle cx="58.3" cy="741.6" r="15" fill="url(#halo)"/>
<circle cx="100.7" cy="741.6" r="15" fill="url(#halo)"/>
<circle cx="143.1" cy="741.6" r="20" fill="url(#halo)"/>
<circle cx="185.5" cy="741.6" r="20" fill="url(#halo)"/>
<circle cx="227.9" cy="741.6" r="20" fill="url(#halo)"/>
<circle cx="270.3" cy="741.6" r="20" fill="url(#halo)"/>
<circle cx="312.7" cy="741.6" r="15" fill="url(#halo)"/>
<circle cx="355.1" cy="741.6" r="15" fill="url(#halo)"/>
<circle cx="37.1" cy="777.8" r="15" fill="url(#halo)"/>
<circle cx="79.5" cy="777.8" r="15" fill="url(#halo)"/>
<circle cx="121.9" cy="777.8" r="15" fill="url(#halo)"/>
<circle cx="164.3" cy="777.8" r="20" fill="url(#halo)"/>
<circle cx="206.7" cy="777.8" r="20" fill="url(#halo)"/>
<circle cx="249.1" cy="777.8" r="20" fill="url(#halo)"/>
<circle cx="291.5" cy="777.8" r="15" fill="url(#halo)"/>
<circle cx="333.9" cy="777.8" r="15" fill="url(#halo)"/>
<circle cx="376.3" cy="777.8" r="15" fill="url(#halo)"/>
<circle cx="58.3" cy="814.0" r="15" fill="url(#halo)"/>
<circle cx="100.7" cy="814.0" r="15" fill="url(#halo)"/>
<circle cx="143.1" cy="814.0" r="15" fill="url(#halo)"/>
<circle cx="185.5" cy="814.0" r="15" fill="url(#halo)"/>
<circle cx="227.9" cy="814.0" r="15" fill="url(#halo)"/>
<circle cx="270.3" cy="814.0" r="15" fill="url(#halo)"/>
<circle cx="312.7" cy="814.0" r="15" fill="url(#halo)"/>
<circle cx="355.1" cy="814.0" r="15" fill="url(#halo)"/>
<ellipse cx="206.7" cy="705.5" rx="160" ry="140" fill="url(#dbg)"/>
<circle cx="62.5" cy="600.1" r="3.0" fill="url(#dmed)" opacity="0.85"/>
<circle cx="54.1" cy="594.0" r="3.0" fill="url(#dmed)" opacity="0.85"/>
<circle cx="103.7" cy="600.1" r="3.0" fill="url(#dmed)" opacity="0.85"/>
<circle cx="97.7" cy="594.0" r="3.0" fill="url(#dmed)" opacity="0.85"/>
<circle cx="144.9" cy="600.1" r="3.0" fill="url(#dmed)" opacity="1.0"/>
<circle cx="141.3" cy="594.0" r="3.0" fill="url(#dmed)" opacity="1.0"/>
<circle cx="186.1" cy="600.1" r="3.0" fill="url(#dmed)" opacity="1.0"/>
<circle cx="184.9" cy="594.0" r="3.0" fill="url(#dmed)" opacity="1.0"/>
<circle cx="227.3" cy="600.1" r="3.0" fill="url(#dmed)" opacity="1.0"/>
<circle cx="228.5" cy="594.0" r="3.0" fill="url(#dmed)" opacity="1.0"/>
<circle cx="268.5" cy="600.1" r="3.0" fill="url(#dmed)" opacity="1.0"/>
<circle cx="272.1" cy="594.0" r="3.0" fill="url(#dmed)" opacity="1.0"/>
<circle cx="309.7" cy="600.1" r="3.0" fill="url(#dmed)" opacity="0.85"/>
<circle cx="315.7" cy="594.0" r="3.0" fill="url(#dmed)" opacity="0.85"/>
<circle cx="350.9" cy="600.1" r="3.0" fill="url(#dmed)" opacity="0.85"/>
<circle cx="359.3" cy="594.0" r="3.0" fill="url(#dmed)" opacity="0.85"/>
<circle cx="41.8" cy="635.2" r="3.0" fill="url(#dmed)" opacity="0.85"/>
<circle cx="32.4" cy="631.2" r="3.0" fill="url(#dmed)" opacity="0.85"/>
<circle cx="83.1" cy="635.2" r="3.0" fill="url(#dmed)" opacity="0.85"/>
<circle cx="75.9" cy="631.2" r="3.0" fill="url(#dmed)" opacity="0.85"/>
<circle cx="124.3" cy="635.2" r="3.0" fill="url(#dmed)" opacity="1.0"/>
<circle cx="119.5" cy="631.2" r="3.0" fill="url(#dmed)" opacity="1.0"/>
<circle cx="165.5" cy="635.2" r="3" fill="url(#dfaint)" opacity="0.7"/>
<circle cx="163.1" cy="631.2" r="3" fill="url(#dfaint)" opacity="0.7"/>
<ellipse cx="0" cy="0" rx="8.2" ry="6" fill="url(#dglow)" transform="translate(206.7,633.2) rotate(-90.0)"/>
<circle cx="206.7" cy="635.2" r="2.3" fill="url(#dcore)"/>
<circle cx="206.7" cy="631.2" r="2.3" fill="url(#dcore)"/>
<circle cx="247.9" cy="635.2" r="3" fill="url(#dfaint)" opacity="0.7"/>
<circle cx="250.3" cy="631.2" r="3" fill="url(#dfaint)" opacity="0.7"/>
<circle cx="289.1" cy="635.2" r="3.0" fill="url(#dmed)" opacity="1.0"/>
<circle cx="293.9" cy="631.2" r="3.0" fill="url(#dmed)" opacity="1.0"/>
<circle cx="330.3" cy="635.2" r="3.0" fill="url(#dmed)" opacity="0.85"/>
<circle cx="337.5" cy="631.2" r="3.0" fill="url(#dmed)" opacity="0.85"/>
<circle cx="371.6" cy="635.2" r="3.0" fill="url(#dmed)" opacity="0.85"/>
<circle cx="381.0" cy="631.2" r="3.0" fill="url(#dmed)" opacity="0.85"/>
<circle cx="62.5" cy="670.4" r="3.0" fill="url(#dmed)" opacity="0.85"/>
<circle cx="54.1" cy="668.3" r="3.0" fill="url(#dmed)" opacity="0.85"/>
<circle cx="103.7" cy="670.4" r="3.0" fill="url(#dmed)" opacity="1.0"/>
<circle cx="97.7" cy="668.3" r="3.0" fill="url(#dmed)" opacity="1.0"/>
<ellipse cx="0" cy="0" rx="8.2" ry="6" fill="url(#dglow)" transform="translate(143.1,669.4) rotate(-150.4)"/>
<circle cx="144.9" cy="670.4" r="2.3" fill="url(#dcore)"/>
<circle cx="141.3" cy="668.3" r="2.3" fill="url(#dcore)"/>
<ellipse cx="0" cy="0" rx="7.2" ry="5.4" fill="url(#dbright)" transform="translate(185.5,669.4) rotate(-120.4)"/>
<ellipse cx="0" cy="0" rx="7.2" ry="5.4" fill="url(#dbright)" transform="translate(227.9,669.4) rotate(-59.6)"/>
<ellipse cx="0" cy="0" rx="8.2" ry="6" fill="url(#dglow)" transform="translate(270.3,669.4) rotate(-29.6)"/>
<circle cx="268.5" cy="670.4" r="2.3" fill="url(#dcore)"/>
<circle cx="272.1" cy="668.3" r="2.3" fill="url(#dcore)"/>
<circle cx="309.7" cy="670.4" r="3.0" fill="url(#dmed)" opacity="1.0"/>
<circle cx="315.7" cy="668.3" r="3.0" fill="url(#dmed)" opacity="1.0"/>
<circle cx="350.9" cy="670.4" r="3.0" fill="url(#dmed)" opacity="0.85"/>
<circle cx="359.3" cy="668.3" r="3.0" fill="url(#dmed)" opacity="0.85"/>
<circle cx="41.8" cy="705.5" r="3.0" fill="url(#dmed)" opacity="0.85"/>
<circle cx="32.4" cy="705.5" r="3.0" fill="url(#dmed)" opacity="0.85"/>
<circle cx="83.1" cy="705.5" r="3.0" fill="url(#dmed)" opacity="1.0"/>
<circle cx="75.9" cy="705.5" r="3.0" fill="url(#dmed)" opacity="1.0"/>
<circle cx="124.3" cy="705.5" r="3" fill="url(#dfaint)" opacity="0.7"/>
<circle cx="119.5" cy="705.5" r="3" fill="url(#dfaint)" opacity="0.7"/>
<ellipse cx="0" cy="0" rx="7.2" ry="5.4" fill="url(#dbright)" transform="translate(164.3,705.5) rotate(180.0)"/>
<ellipse cx="206.7" cy="705.5" rx="9.6" ry="9.3" fill="url(#dbright)"/>
<ellipse cx="0" cy="0" rx="7.2" ry="5.4" fill="url(#dbright)" transform="translate(249.1,705.5) rotate(0.0)"/>
<circle cx="289.1" cy="705.5" r="3" fill="url(#dfaint)" opacity="0.7"/>
<circle cx="293.9" cy="705.5" r="3" fill="url(#dfaint)" opacity="0.7"/>
<circle cx="330.3" cy="705.5" r="3.0" fill="url(#dmed)" opacity="1.0"/>
<circle cx="337.5" cy="705.5" r="3.0" fill="url(#dmed)" opacity="1.0"/>
<circle cx="371.6" cy="705.5" r="3.0" fill="url(#dmed)" opacity="0.85"/>
<circle cx="381.0" cy="705.5" r="3.0" fill="url(#dmed)" opacity="0.85"/>
<circle cx="62.5" cy="740.6" r="3.0" fill="url(#dmed)" opacity="0.85"/>
<circle cx="54.1" cy="742.7" r="3.0" fill="url(#dmed)" opacity="0.85"/>
<circle cx="103.7" cy="740.6" r="3.0" fill="url(#dmed)" opacity="1.0"/>
<circle cx="97.7" cy="742.7" r="3.0" fill="url(#dmed)" opacity="1.0"/>
<ellipse cx="0" cy="0" rx="8.2" ry="6" fill="url(#dglow)" transform="translate(143.1,741.6) rotate(150.4)"/>
<circle cx="144.9" cy="740.6" r="2.3" fill="url(#dcore)"/>
<circle cx="141.3" cy="742.7" r="2.3" fill="url(#dcore)"/>
<ellipse cx="0" cy="0" rx="7.2" ry="5.4" fill="url(#dbright)" transform="translate(185.5,741.6) rotate(120.4)"/>
<ellipse cx="0" cy="0" rx="7.2" ry="5.4" fill="url(#dbright)" transform="translate(227.9,741.6) rotate(59.6)"/>
<ellipse cx="0" cy="0" rx="8.2" ry="6" fill="url(#dglow)" transform="translate(270.3,741.6) rotate(29.6)"/>
<circle cx="268.5" cy="740.6" r="2.3" fill="url(#dcore)"/>
<circle cx="272.1" cy="742.7" r="2.3" fill="url(#dcore)"/>
<circle cx="309.7" cy="740.6" r="3.0" fill="url(#dmed)" opacity="1.0"/>
<circle cx="315.7" cy="742.7" r="3.0" fill="url(#dmed)" opacity="1.0"/>
<circle cx="350.9" cy="740.6" r="3.0" fill="url(#dmed)" opacity="0.85"/>
<circle cx="359.3" cy="742.7" r="3.0" fill="url(#dmed)" opacity="0.85"/>
<circle cx="41.8" cy="775.8" r="3.0" fill="url(#dmed)" opacity="0.85"/>
<circle cx="32.4" cy="779.8" r="3.0" fill="url(#dmed)" opacity="0.85"/>
<circle cx="83.1" cy="775.8" r="3.0" fill="url(#dmed)" opacity="0.85"/>
<circle cx="75.9" cy="779.8" r="3.0" fill="url(#dmed)" opacity="0.85"/>
<circle cx="124.3" cy="775.8" r="3.0" fill="url(#dmed)" opacity="1.0"/>
<circle cx="119.5" cy="779.8" r="3.0" fill="url(#dmed)" opacity="1.0"/>
<circle cx="165.5" cy="775.8" r="3" fill="url(#dfaint)" opacity="0.7"/>
<circle cx="163.1" cy="779.8" r="3" fill="url(#dfaint)" opacity="0.7"/>
<ellipse cx="0" cy="0" rx="8.2" ry="6" fill="url(#dglow)" transform="translate(206.7,777.8) rotate(90.0)"/>
<circle cx="206.7" cy="775.8" r="2.3" fill="url(#dcore)"/>
<circle cx="206.7" cy="779.8" r="2.3" fill="url(#dcore)"/>
<circle cx="247.9" cy="775.8" r="3" fill="url(#dfaint)" opacity="0.7"/>
<circle cx="250.3" cy="779.8" r="3" fill="url(#dfaint)" opacity="0.7"/>
<circle cx="289.1" cy="775.8" r="3.0" fill="url(#dmed)" opacity="1.0"/>
<circle cx="293.9" cy="779.8" r="3.0" fill="url(#dmed)" opacity="1.0"/>
<circle cx="330.3" cy="775.8" r="3.0" fill="url(#dmed)" opacity="0.85"/>
<circle cx="337.5" cy="779.8" r="3.0" fill="url(#dmed)" opacity="0.85"/>
<circle cx="371.6" cy="775.8" r="3.0" fill="url(#dmed)" opacity="0.85"/>
<circle cx="381.0" cy="779.8" r="3.0" fill="url(#dmed)" opacity="0.85"/>
<circle cx="62.5" cy="810.9" r="3.0" fill="url(#dmed)" opacity="0.85"/>
<circle cx="54.1" cy="817.0" r="3.0" fill="url(#dmed)" opacity="0.85"/>
<circle cx="103.7" cy="810.9" r="3.0" fill="url(#dmed)" opacity="0.85"/>
<circle cx="97.7" cy="817.0" r="3.0" fill="url(#dmed)" opacity="0.85"/>
<circle cx="144.9" cy="810.9" r="3.0" fill="url(#dmed)" opacity="1.0"/>
<circle cx="141.3" cy="817.0" r="3.0" fill="url(#dmed)" opacity="1.0"/>
<circle cx="186.1" cy="810.9" r="3.0" fill="url(#dmed)" opacity="1.0"/>
<circle cx="184.9" cy="817.0" r="3.0" fill="url(#dmed)" opacity="1.0"/>
<circle cx="227.3" cy="810.9" r="3.0" fill="url(#dmed)" opacity="1.0"/>
<circle cx="228.5" cy="817.0" r="3.0" fill="url(#dmed)" opacity="1.0"/>
<circle cx="268.5" cy="810.9" r="3.0" fill="url(#dmed)" opacity="1.0"/>
<circle cx="272.1" cy="817.0" r="3.0" fill="url(#dmed)" opacity="1.0"/>
<circle cx="309.7" cy="810.9" r="3.0" fill="url(#dmed)" opacity="0.85"/>
<circle cx="315.7" cy="817.0" r="3.0" fill="url(#dmed)" opacity="0.85"/>
<circle cx="350.9" cy="810.9" r="3.0" fill="url(#dmed)" opacity="0.85"/>
<circle cx="359.3" cy="817.0" r="3.0" fill="url(#dmed)" opacity="0.85"/>
</g>
<rect x="6.2" y="704.1" width="2.3" height="2.5" fill="#c8d0f4"/>
<rect x="11.9" y="704.1" width="2.3" height="2.5" fill="#c8d0f4"/>
<rect x="17.7" y="704.1" width="2.3" height="2.5" fill="#c8d0f4"/>
<rect x="23.4" y="704.1" width="2.3" height="2.5" fill="#c8d0f4"/>
<rect x="29.2" y="704.1" width="2.3" height="2.5" fill="#c8d0f4"/>
<rect x="35.0" y="704.1" width="2.3" height="2.5" fill="#c8d0f4"/>
<rect x="40.7" y="704.1" width="2.3" height="2.5" fill="#c8d0f4"/>
<rect x="46.5" y="704.1" width="2.3" height="2.5" fill="#c8d0f4"/>
<rect x="52.2" y="704.1" width="2.3" height="2.5" fill="#c8d0f4"/>
<rect x="58.0" y="704.1" width="2.3" height="2.5" fill="#c8d0f4"/>
<rect x="63.7" y="704.1" width="2.3" height="2.5" fill="#c8d0f4"/>
<rect x="69.5" y="704.1" width="2.3" height="2.5" fill="#c8d0f4"/>
<rect x="75.2" y="704.1" width="2.3" height="2.5" fill="#c8d0f4"/>
<rect x="81.0" y="704.1" width="2.3" height="2.5" fill="#c8d0f4"/>
<rect x="86.7" y="704.1" width="2.3" height="2.5" fill="#c8d0f4"/>
<rect x="92.5" y="704.1" width="2.3" height="2.5" fill="#c8d0f4"/>
<rect x="98.2" y="704.1" width="2.3" height="2.5" fill="#c8d0f4"/>
<rect x="104.0" y="704.1" width="2.3" height="2.5" fill="#c8d0f4"/>
<rect x="109.7" y="704.1" width="2.3" height="2.5" fill="#c8d0f4"/>
<rect x="115.5" y="704.1" width="2.3" height="2.5" fill="#c8d0f4"/>
<rect x="121.2" y="704.1" width="2.3" height="2.5" fill="#c8d0f4"/>
<rect x="127.0" y="704.1" width="2.3" height="2.5" fill="#c8d0f4"/>
<rect x="132.7" y="704.1" width="2.3" height="2.5" fill="#c8d0f4"/>
<rect x="138.4" y="704.1" width="2.3" height="2.5" fill="#c8d0f4"/>
<rect x="144.2" y="704.1" width="2.3" height="2.5" fill="#c8d0f4"/>
<rect x="149.9" y="704.1" width="2.3" height="2.5" fill="#c8d0f4"/>
<text x="14.4" y="606" font-size="19" fill="#fff" textLength="19.8" lengthAdjust="spacingAndGlyphs">(d)</text>
<text x="215.8" y="651.9" font-size="16.3" fill="#fff" textLength="25.5" lengthAdjust="spacingAndGlyphs">010</text>
<text x="243" y="691.9" font-size="16.3" fill="#fff" textLength="24.6" lengthAdjust="spacingAndGlyphs">100</text>
<text x="18.7" y="731.1" font-size="16" fill="#fff" textLength="91.9" lengthAdjust="spacingAndGlyphs">Radial mode</text>
<rect x="396.2" y="586.2" width="384.8" height="234.8" fill="#000"/>
<defs><clipPath id="ce"><rect x="396.2" y="586.2" width="384.8" height="234.8"/></clipPath></defs>
<g clip-path="url(#ce)">
<circle cx="464.6" cy="616.6" r="1.2" fill="#3050e8" opacity="0.7"/>
<circle cx="460.5" cy="613.7" r="1.2" fill="#2030e0" opacity="0.7"/>
<circle cx="456.3" cy="610.8" r="1.2" fill="#2030e0" opacity="0.7"/>
<circle cx="452.1" cy="607.9" r="1.2" fill="#3050e8" opacity="0.7"/>
<circle cx="447.9" cy="605.0" r="1.2" fill="#2030e0" opacity="0.7"/>
<circle cx="443.7" cy="602.0" r="1.2" fill="#2030e0" opacity="0.7"/>
<circle cx="439.5" cy="599.1" r="1.2" fill="#3050e8" opacity="0.7"/>
<circle cx="435.3" cy="596.2" r="1.2" fill="#2030e0" opacity="0.7"/>
<circle cx="431.1" cy="593.3" r="1.2" fill="#2030e0" opacity="0.7"/>
<circle cx="427.0" cy="590.4" r="1.2" fill="#3050e8" opacity="0.7"/>
<circle cx="500.7" cy="616.6" r="1.2" fill="#2a3ae0" opacity="0.9"/>
<circle cx="497.7" cy="613.7" r="1.2" fill="#2a3ae0" opacity="0.9"/>
<circle cx="494.7" cy="610.8" r="1.2" fill="#e86050" opacity="0.9"/>
<circle cx="491.7" cy="607.9" r="1.2" fill="#c0e840" opacity="0.9"/>
<circle cx="488.7" cy="605.0" r="1.2" fill="#2a3ae0" opacity="0.9"/>
<circle cx="485.7" cy="602.0" r="1.2" fill="#e0f8c8" opacity="0.9"/>
<circle cx="482.7" cy="599.1" r="1.2" fill="#2a3ae0" opacity="0.9"/>
<circle cx="479.7" cy="596.2" r="1.2" fill="#e8a070" opacity="0.9"/>
<circle cx="476.7" cy="593.3" r="1.2" fill="#2a3ae0" opacity="0.9"/>
<circle cx="473.7" cy="590.4" r="1.2" fill="#2a3ae0" opacity="0.9"/>
<circle cx="536.7" cy="616.6" r="1.2" fill="#2838e0" opacity="1.0"/>
<circle cx="534.9" cy="613.7" r="1.2" fill="#40d860" opacity="1.0"/>
<circle cx="533.1" cy="610.8" r="1.2" fill="#e86050" opacity="1.0"/>
<circle cx="531.3" cy="607.9" r="1.2" fill="#c0e840" opacity="1.0"/>
<circle cx="529.5" cy="605.0" r="1.2" fill="#d0f0b0" opacity="1.0"/>
<circle cx="527.7" cy="602.0" r="1.2" fill="#e0f8c8" opacity="1.0"/>
<circle cx="525.9" cy="599.1" r="1.2" fill="#c0f040" opacity="1.0"/>
<circle cx="524.1" cy="596.2" r="1.2" fill="#e8a070" opacity="1.0"/>
<circle cx="522.3" cy="593.3" r="1.2" fill="#b0d050" opacity="1.0"/>
<circle cx="520.5" cy="590.4" r="1.2" fill="#4050c0" opacity="1.0"/>
<circle cx="572.7" cy="616.6" r="1.2" fill="#2838e0" opacity="1.0"/>
<circle cx="572.1" cy="613.7" r="1.2" fill="#40d860" opacity="1.0"/>
<circle cx="571.5" cy="610.8" r="1.2" fill="#e86050" opacity="1.0"/>
<circle cx="570.9" cy="607.9" r="1.2" fill="#c0e840" opacity="1.0"/>
<circle cx="570.3" cy="605.0" r="1.2" fill="#d0f0b0" opacity="1.0"/>
<circle cx="569.7" cy="602.0" r="1.2" fill="#e0f8c8" opacity="1.0"/>
<circle cx="569.1" cy="599.1" r="1.2" fill="#c0f040" opacity="1.0"/>
<circle cx="568.5" cy="596.2" r="1.2" fill="#e8a070" opacity="1.0"/>
<circle cx="567.9" cy="593.3" r="1.2" fill="#b0d050" opacity="1.0"/>
<circle cx="567.3" cy="590.4" r="1.2" fill="#4050c0" opacity="1.0"/>
<circle cx="608.7" cy="616.6" r="1.2" fill="#2838e0" opacity="1.0"/>
<circle cx="609.3" cy="613.7" r="1.2" fill="#40d860" opacity="1.0"/>
<circle cx="609.9" cy="610.8" r="1.2" fill="#e86050" opacity="1.0"/>
<circle cx="610.5" cy="607.9" r="1.2" fill="#c0e840" opacity="1.0"/>
<circle cx="611.1" cy="605.0" r="1.2" fill="#d0f0b0" opacity="1.0"/>
<circle cx="611.7" cy="602.0" r="1.2" fill="#e0f8c8" opacity="1.0"/>
<circle cx="612.3" cy="599.1" r="1.2" fill="#c0f040" opacity="1.0"/>
<circle cx="612.9" cy="596.2" r="1.2" fill="#e8a070" opacity="1.0"/>
<circle cx="613.5" cy="593.3" r="1.2" fill="#b0d050" opacity="1.0"/>
<circle cx="614.1" cy="590.4" r="1.2" fill="#4050c0" opacity="1.0"/>
<circle cx="644.7" cy="616.6" r="1.2" fill="#2838e0" opacity="1.0"/>
<circle cx="646.5" cy="613.7" r="1.2" fill="#40d860" opacity="1.0"/>
<circle cx="648.3" cy="610.8" r="1.2" fill="#e86050" opacity="1.0"/>
<circle cx="650.1" cy="607.9" r="1.2" fill="#c0e840" opacity="1.0"/>
<circle cx="651.9" cy="605.0" r="1.2" fill="#d0f0b0" opacity="1.0"/>
<circle cx="653.7" cy="602.0" r="1.2" fill="#e0f8c8" opacity="1.0"/>
<circle cx="655.5" cy="599.1" r="1.2" fill="#c0f040" opacity="1.0"/>
<circle cx="657.3" cy="596.2" r="1.2" fill="#e8a070" opacity="1.0"/>
<circle cx="659.1" cy="593.3" r="1.2" fill="#b0d050" opacity="1.0"/>
<circle cx="660.9" cy="590.4" r="1.2" fill="#4050c0" opacity="1.0"/>
<circle cx="680.7" cy="616.6" r="1.2" fill="#2a3ae0" opacity="0.9"/>
<circle cx="683.7" cy="613.7" r="1.2" fill="#2a3ae0" opacity="0.9"/>
<circle cx="686.7" cy="610.8" r="1.2" fill="#e86050" opacity="0.9"/>
<circle cx="689.7" cy="607.9" r="1.2" fill="#c0e840" opacity="0.9"/>
<circle cx="692.7" cy="605.0" r="1.2" fill="#2a3ae0" opacity="0.9"/>
<circle cx="695.7" cy="602.0" r="1.2" fill="#e0f8c8" opacity="0.9"/>
<circle cx="698.7" cy="599.1" r="1.2" fill="#2a3ae0" opacity="0.9"/>
<circle cx="701.7" cy="596.2" r="1.2" fill="#e8a070" opacity="0.9"/>
<circle cx="704.7" cy="593.3" r="1.2" fill="#2a3ae0" opacity="0.9"/>
<circle cx="707.7" cy="590.4" r="1.2" fill="#2a3ae0" opacity="0.9"/>
<circle cx="716.8" cy="616.6" r="1.2" fill="#3050e8" opacity="0.7"/>
<circle cx="720.9" cy="613.7" r="1.2" fill="#2030e0" opacity="0.7"/>
<circle cx="725.1" cy="610.8" r="1.2" fill="#2030e0" opacity="0.7"/>
<circle cx="729.3" cy="607.9" r="1.2" fill="#3050e8" opacity="0.7"/>
<circle cx="733.5" cy="605.0" r="1.2" fill="#2030e0" opacity="0.7"/>
<circle cx="737.7" cy="602.0" r="1.2" fill="#2030e0" opacity="0.7"/>
<circle cx="741.9" cy="599.1" r="1.2" fill="#3050e8" opacity="0.7"/>
<circle cx="746.1" cy="596.2" r="1.2" fill="#2030e0" opacity="0.7"/>
<circle cx="750.3" cy="593.3" r="1.2" fill="#2030e0" opacity="0.7"/>
<circle cx="754.4" cy="590.4" r="1.2" fill="#3050e8" opacity="0.7"/>
<circle cx="446.6" cy="645.8" r="1.2" fill="#3050e8" opacity="0.7"/>
<circle cx="441.8" cy="643.9" r="1.2" fill="#2030e0" opacity="0.7"/>
<circle cx="437.1" cy="642.0" r="1.2" fill="#2030e0" opacity="0.7"/>
<circle cx="432.3" cy="640.0" r="1.2" fill="#3050e8" opacity="0.7"/>
<circle cx="427.5" cy="638.1" r="1.2" fill="#2030e0" opacity="0.7"/>
<circle cx="422.7" cy="636.1" r="1.2" fill="#2030e0" opacity="0.7"/>
<circle cx="417.9" cy="634.2" r="1.2" fill="#3050e8" opacity="0.7"/>
<circle cx="413.1" cy="632.2" r="1.2" fill="#2030e0" opacity="0.7"/>
<circle cx="408.4" cy="630.3" r="1.2" fill="#2030e0" opacity="0.7"/>
<circle cx="403.6" cy="628.4" r="1.2" fill="#3050e8" opacity="0.7"/>
<circle cx="482.6" cy="645.8" r="1.2" fill="#3050e8" opacity="0.85"/>
<circle cx="479.1" cy="643.9" r="1.2" fill="#2030e0" opacity="0.85"/>
<circle cx="475.5" cy="642.0" r="1.2" fill="#2030e0" opacity="0.85"/>
<circle cx="471.9" cy="640.0" r="1.2" fill="#3050e8" opacity="0.85"/>
<circle cx="468.3" cy="638.1" r="1.2" fill="#2030e0" opacity="0.85"/>
<circle cx="464.7" cy="636.1" r="1.2" fill="#2030e0" opacity="0.85"/>
<circle cx="461.1" cy="634.2" r="1.2" fill="#3050e8" opacity="0.85"/>
<circle cx="457.5" cy="632.2" r="1.2" fill="#2030e0" opacity="0.85"/>
<circle cx="453.9" cy="630.3" r="1.2" fill="#2030e0" opacity="0.85"/>
<circle cx="450.4" cy="628.4" r="1.2" fill="#3050e8" opacity="0.85"/>
<circle cx="518.7" cy="645.8" r="1.2" fill="#2838e0" opacity="1.0"/>
<circle cx="516.3" cy="643.9" r="1.2" fill="#40d860" opacity="1.0"/>
<circle cx="513.9" cy="642.0" r="1.2" fill="#e86050" opacity="1.0"/>
<circle cx="511.5" cy="640.0" r="1.2" fill="#c0e840" opacity="1.0"/>
<circle cx="509.1" cy="638.1" r="1.2" fill="#d0f0b0" opacity="1.0"/>
<circle cx="506.7" cy="636.1" r="1.2" fill="#e0f8c8" opacity="1.0"/>
<circle cx="504.3" cy="634.2" r="1.2" fill="#c0f040" opacity="1.0"/>
<circle cx="501.9" cy="632.2" r="1.2" fill="#e8a070" opacity="1.0"/>
<circle cx="499.5" cy="630.3" r="1.2" fill="#b0d050" opacity="1.0"/>
<circle cx="497.1" cy="628.4" r="1.2" fill="#4050c0" opacity="1.0"/>
<line x1="554.7" y1="645.8" x2="543.9" y2="628.4" stroke="#0a0a90" stroke-width="1.2" opacity="0.8"/>
<line x1="590.7" y1="645.8" x2="590.7" y2="628.4" stroke="#fff" stroke-width="2.6" stroke-linecap="round"/>
<line x1="626.7" y1="645.8" x2="637.5" y2="628.4" stroke="#0a0a90" stroke-width="1.2" opacity="0.8"/>
<circle cx="662.7" cy="645.8" r="1.2" fill="#2838e0" opacity="1.0"/>
<circle cx="665.1" cy="643.9" r="1.2" fill="#40d860" opacity="1.0"/>
<circle cx="667.5" cy="642.0" r="1.2" fill="#e86050" opacity="1.0"/>
<circle cx="669.9" cy="640.0" r="1.2" fill="#c0e840" opacity="1.0"/>
<circle cx="672.3" cy="638.1" r="1.2" fill="#d0f0b0" opacity="1.0"/>
<circle cx="674.7" cy="636.1" r="1.2" fill="#e0f8c8" opacity="1.0"/>
<circle cx="677.1" cy="634.2" r="1.2" fill="#c0f040" opacity="1.0"/>
<circle cx="679.5" cy="632.2" r="1.2" fill="#e8a070" opacity="1.0"/>
<circle cx="681.9" cy="630.3" r="1.2" fill="#b0d050" opacity="1.0"/>
<circle cx="684.3" cy="628.4" r="1.2" fill="#4050c0" opacity="1.0"/>
<circle cx="698.8" cy="645.8" r="1.2" fill="#3050e8" opacity="0.85"/>
<circle cx="702.3" cy="643.9" r="1.2" fill="#2030e0" opacity="0.85"/>
<circle cx="705.9" cy="642.0" r="1.2" fill="#2030e0" opacity="0.85"/>
<circle cx="709.5" cy="640.0" r="1.2" fill="#3050e8" opacity="0.85"/>
<circle cx="713.1" cy="638.1" r="1.2" fill="#2030e0" opacity="0.85"/>
<circle cx="716.7" cy="636.1" r="1.2" fill="#2030e0" opacity="0.85"/>
<circle cx="720.3" cy="634.2" r="1.2" fill="#3050e8" opacity="0.85"/>
<circle cx="723.9" cy="632.2" r="1.2" fill="#2030e0" opacity="0.85"/>
<circle cx="727.5" cy="630.3" r="1.2" fill="#2030e0" opacity="0.85"/>
<circle cx="731.0" cy="628.4" r="1.2" fill="#3050e8" opacity="0.85"/>
<circle cx="734.8" cy="645.8" r="1.2" fill="#3050e8" opacity="0.7"/>
<circle cx="739.6" cy="643.9" r="1.2" fill="#2030e0" opacity="0.7"/>
<circle cx="744.3" cy="642.0" r="1.2" fill="#2030e0" opacity="0.7"/>
<circle cx="749.1" cy="640.0" r="1.2" fill="#3050e8" opacity="0.7"/>
<circle cx="753.9" cy="638.1" r="1.2" fill="#2030e0" opacity="0.7"/>
<circle cx="758.7" cy="636.1" r="1.2" fill="#2030e0" opacity="0.7"/>
<circle cx="763.5" cy="634.2" r="1.2" fill="#3050e8" opacity="0.7"/>
<circle cx="768.3" cy="632.2" r="1.2" fill="#2030e0" opacity="0.7"/>
<circle cx="773.0" cy="630.3" r="1.2" fill="#2030e0" opacity="0.7"/>
<circle cx="777.8" cy="628.4" r="1.2" fill="#3050e8" opacity="0.7"/>
<circle cx="464.6" cy="675.1" r="1.2" fill="#2a3ae0" opacity="0.9"/>
<circle cx="460.5" cy="674.1" r="1.2" fill="#2a3ae0" opacity="0.9"/>
<circle cx="456.3" cy="673.1" r="1.2" fill="#e86050" opacity="0.9"/>
<circle cx="452.1" cy="672.2" r="1.2" fill="#c0e840" opacity="0.9"/>
<circle cx="447.9" cy="671.2" r="1.2" fill="#2a3ae0" opacity="0.9"/>
<circle cx="443.7" cy="670.2" r="1.2" fill="#e0f8c8" opacity="0.9"/>
<circle cx="439.5" cy="669.2" r="1.2" fill="#2a3ae0" opacity="0.9"/>
<circle cx="435.3" cy="668.3" r="1.2" fill="#e8a070" opacity="0.9"/>
<circle cx="431.1" cy="667.3" r="1.2" fill="#2a3ae0" opacity="0.9"/>
<circle cx="427.0" cy="666.3" r="1.2" fill="#2a3ae0" opacity="0.9"/>
<circle cx="500.7" cy="675.1" r="1.2" fill="#2838e0" opacity="1.0"/>
<circle cx="497.7" cy="674.1" r="1.2" fill="#40d860" opacity="1.0"/>
<circle cx="494.7" cy="673.1" r="1.2" fill="#e86050" opacity="1.0"/>
<circle cx="491.7" cy="672.2" r="1.2" fill="#c0e840" opacity="1.0"/>
<circle cx="488.7" cy="671.2" r="1.2" fill="#d0f0b0" opacity="1.0"/>
<circle cx="485.7" cy="670.2" r="1.2" fill="#e0f8c8" opacity="1.0"/>
<circle cx="482.7" cy="669.2" r="1.2" fill="#c0f040" opacity="1.0"/>
<circle cx="479.7" cy="668.3" r="1.2" fill="#e8a070" opacity="1.0"/>
<circle cx="476.7" cy="667.3" r="1.2" fill="#b0d050" opacity="1.0"/>
<circle cx="473.7" cy="666.3" r="1.2" fill="#4050c0" opacity="1.0"/>
<line x1="536.7" y1="675.1" x2="520.5" y2="666.3" stroke="#fff" stroke-width="2.6" stroke-linecap="round"/>
<line x1="572.7" y1="675.1" x2="567.3" y2="666.3" stroke="#fff" stroke-width="2.6" stroke-linecap="round"/>
<line x1="608.7" y1="675.1" x2="614.1" y2="666.3" stroke="#fff" stroke-width="2.6" stroke-linecap="round"/>
<line x1="644.7" y1="675.1" x2="660.9" y2="666.3" stroke="#fff" stroke-width="2.6" stroke-linecap="round"/>
<circle cx="680.7" cy="675.1" r="1.2" fill="#2838e0" opacity="1.0"/>
<circle cx="683.7" cy="674.1" r="1.2" fill="#40d860" opacity="1.0"/>
<circle cx="686.7" cy="673.1" r="1.2" fill="#e86050" opacity="1.0"/>
<circle cx="689.7" cy="672.2" r="1.2" fill="#c0e840" opacity="1.0"/>
<circle cx="692.7" cy="671.2" r="1.2" fill="#d0f0b0" opacity="1.0"/>
<circle cx="695.7" cy="670.2" r="1.2" fill="#e0f8c8" opacity="1.0"/>
<circle cx="698.7" cy="669.2" r="1.2" fill="#c0f040" opacity="1.0"/>
<circle cx="701.7" cy="668.3" r="1.2" fill="#e8a070" opacity="1.0"/>
<circle cx="704.7" cy="667.3" r="1.2" fill="#b0d050" opacity="1.0"/>
<circle cx="707.7" cy="666.3" r="1.2" fill="#4050c0" opacity="1.0"/>
<circle cx="716.8" cy="675.1" r="1.2" fill="#2a3ae0" opacity="0.9"/>
<circle cx="720.9" cy="674.1" r="1.2" fill="#2a3ae0" opacity="0.9"/>
<circle cx="725.1" cy="673.1" r="1.2" fill="#e86050" opacity="0.9"/>
<circle cx="729.3" cy="672.2" r="1.2" fill="#c0e840" opacity="0.9"/>
<circle cx="733.5" cy="671.2" r="1.2" fill="#2a3ae0" opacity="0.9"/>
<circle cx="737.7" cy="670.2" r="1.2" fill="#e0f8c8" opacity="0.9"/>
<circle cx="741.9" cy="669.2" r="1.2" fill="#2a3ae0" opacity="0.9"/>
<circle cx="746.1" cy="668.3" r="1.2" fill="#e8a070" opacity="0.9"/>
<circle cx="750.3" cy="667.3" r="1.2" fill="#2a3ae0" opacity="0.9"/>
<circle cx="754.4" cy="666.3" r="1.2" fill="#2a3ae0" opacity="0.9"/>
<circle cx="446.6" cy="704.3" r="1.2" fill="#3050e8" opacity="0.85"/>
<circle cx="441.8" cy="704.3" r="1.2" fill="#2030e0" opacity="0.85"/>
<circle cx="437.1" cy="704.3" r="1.2" fill="#2030e0" opacity="0.85"/>
<circle cx="432.3" cy="704.3" r="1.2" fill="#3050e8" opacity="0.85"/>
<circle cx="427.5" cy="704.3" r="1.2" fill="#2030e0" opacity="0.85"/>
<circle cx="422.7" cy="704.3" r="1.2" fill="#2030e0" opacity="0.85"/>
<circle cx="417.9" cy="704.3" r="1.2" fill="#3050e8" opacity="0.85"/>
<circle cx="413.1" cy="704.3" r="1.2" fill="#2030e0" opacity="0.85"/>
<circle cx="408.4" cy="704.3" r="1.2" fill="#2030e0" opacity="0.85"/>
<circle cx="403.6" cy="704.3" r="1.2" fill="#3050e8" opacity="0.85"/>
<circle cx="482.6" cy="704.3" r="1.2" fill="#2838e0" opacity="1.0"/>
<circle cx="479.1" cy="704.3" r="1.2" fill="#40d860" opacity="1.0"/>
<circle cx="475.5" cy="704.3" r="1.2" fill="#e86050" opacity="1.0"/>
<circle cx="471.9" cy="704.3" r="1.2" fill="#c0e840" opacity="1.0"/>
<circle cx="468.3" cy="704.3" r="1.2" fill="#d0f0b0" opacity="1.0"/>
<circle cx="464.7" cy="704.3" r="1.2" fill="#e0f8c8" opacity="1.0"/>
<circle cx="461.1" cy="704.3" r="1.2" fill="#c0f040" opacity="1.0"/>
<circle cx="457.5" cy="704.3" r="1.2" fill="#e8a070" opacity="1.0"/>
<circle cx="453.9" cy="704.3" r="1.2" fill="#b0d050" opacity="1.0"/>
<circle cx="450.4" cy="704.3" r="1.2" fill="#4050c0" opacity="1.0"/>
<line x1="518.7" y1="704.3" x2="497.1" y2="704.3" stroke="#0a0a90" stroke-width="1.2" opacity="0.8"/>
<line x1="554.7" y1="704.3" x2="543.9" y2="704.3" stroke="#fff" stroke-width="2.6" stroke-linecap="round"/>
<circle cx="590.7" cy="704.3" r="2.1" fill="#fff"/>
<line x1="626.7" y1="704.3" x2="637.5" y2="704.3" stroke="#fff" stroke-width="2.6" stroke-linecap="round"/>
<line x1="662.7" y1="704.3" x2="684.3" y2="704.3" stroke="#0a0a90" stroke-width="1.2" opacity="0.8"/>
<circle cx="698.8" cy="704.3" r="1.2" fill="#2838e0" opacity="1.0"/>
<circle cx="702.3" cy="704.3" r="1.2" fill="#40d860" opacity="1.0"/>
<circle cx="705.9" cy="704.3" r="1.2" fill="#e86050" opacity="1.0"/>
<circle cx="709.5" cy="704.3" r="1.2" fill="#c0e840" opacity="1.0"/>
<circle cx="713.1" cy="704.3" r="1.2" fill="#d0f0b0" opacity="1.0"/>
<circle cx="716.7" cy="704.3" r="1.2" fill="#e0f8c8" opacity="1.0"/>
<circle cx="720.3" cy="704.3" r="1.2" fill="#c0f040" opacity="1.0"/>
<circle cx="723.9" cy="704.3" r="1.2" fill="#e8a070" opacity="1.0"/>
<circle cx="727.5" cy="704.3" r="1.2" fill="#b0d050" opacity="1.0"/>
<circle cx="731.0" cy="704.3" r="1.2" fill="#4050c0" opacity="1.0"/>
<circle cx="734.8" cy="704.3" r="1.2" fill="#3050e8" opacity="0.85"/>
<circle cx="739.6" cy="704.3" r="1.2" fill="#2030e0" opacity="0.85"/>
<circle cx="744.3" cy="704.3" r="1.2" fill="#2030e0" opacity="0.85"/>
<circle cx="749.1" cy="704.3" r="1.2" fill="#3050e8" opacity="0.85"/>
<circle cx="753.9" cy="704.3" r="1.2" fill="#2030e0" opacity="0.85"/>
<circle cx="758.7" cy="704.3" r="1.2" fill="#2030e0" opacity="0.85"/>
<circle cx="763.5" cy="704.3" r="1.2" fill="#3050e8" opacity="0.85"/>
<circle cx="768.3" cy="704.3" r="1.2" fill="#2030e0" opacity="0.85"/>
<circle cx="773.0" cy="704.3" r="1.2" fill="#2030e0" opacity="0.85"/>
<circle cx="777.8" cy="704.3" r="1.2" fill="#3050e8" opacity="0.85"/>
<circle cx="464.6" cy="733.5" r="1.2" fill="#2a3ae0" opacity="0.9"/>
<circle cx="460.5" cy="734.5" r="1.2" fill="#2a3ae0" opacity="0.9"/>
<circle cx="456.3" cy="735.5" r="1.2" fill="#e86050" opacity="0.9"/>
<circle cx="452.1" cy="736.4" r="1.2" fill="#c0e840" opacity="0.9"/>
<circle cx="447.9" cy="737.4" r="1.2" fill="#2a3ae0" opacity="0.9"/>
<circle cx="443.7" cy="738.4" r="1.2" fill="#e0f8c8" opacity="0.9"/>
<circle cx="439.5" cy="739.4" r="1.2" fill="#2a3ae0" opacity="0.9"/>
<circle cx="435.3" cy="740.3" r="1.2" fill="#e8a070" opacity="0.9"/>
<circle cx="431.1" cy="741.3" r="1.2" fill="#2a3ae0" opacity="0.9"/>
<circle cx="427.0" cy="742.3" r="1.2" fill="#2a3ae0" opacity="0.9"/>
<circle cx="500.7" cy="733.5" r="1.2" fill="#2838e0" opacity="1.0"/>
<circle cx="497.7" cy="734.5" r="1.2" fill="#40d860" opacity="1.0"/>
<circle cx="494.7" cy="735.5" r="1.2" fill="#e86050" opacity="1.0"/>
<circle cx="491.7" cy="736.4" r="1.2" fill="#c0e840" opacity="1.0"/>
<circle cx="488.7" cy="737.4" r="1.2" fill="#d0f0b0" opacity="1.0"/>
<circle cx="485.7" cy="738.4" r="1.2" fill="#e0f8c8" opacity="1.0"/>
<circle cx="482.7" cy="739.4" r="1.2" fill="#c0f040" opacity="1.0"/>
<circle cx="479.7" cy="740.3" r="1.2" fill="#e8a070" opacity="1.0"/>
<circle cx="476.7" cy="741.3" r="1.2" fill="#b0d050" opacity="1.0"/>
<circle cx="473.7" cy="742.3" r="1.2" fill="#4050c0" opacity="1.0"/>
<line x1="536.7" y1="733.5" x2="520.5" y2="742.3" stroke="#fff" stroke-width="2.6" stroke-linecap="round"/>
<line x1="572.7" y1="733.5" x2="567.3" y2="742.3" stroke="#fff" stroke-width="2.6" stroke-linecap="round"/>
<line x1="608.7" y1="733.5" x2="614.1" y2="742.3" stroke="#fff" stroke-width="2.6" stroke-linecap="round"/>
<line x1="644.7" y1="733.5" x2="660.9" y2="742.3" stroke="#fff" stroke-width="2.6" stroke-linecap="round"/>
<circle cx="680.7" cy="733.5" r="1.2" fill="#2838e0" opacity="1.0"/>
<circle cx="683.7" cy="734.5" r="1.2" fill="#40d860" opacity="1.0"/>
<circle cx="686.7" cy="735.5" r="1.2" fill="#e86050" opacity="1.0"/>
<circle cx="689.7" cy="736.4" r="1.2" fill="#c0e840" opacity="1.0"/>
<circle cx="692.7" cy="737.4" r="1.2" fill="#d0f0b0" opacity="1.0"/>
<circle cx="695.7" cy="738.4" r="1.2" fill="#e0f8c8" opacity="1.0"/>
<circle cx="698.7" cy="739.4" r="1.2" fill="#c0f040" opacity="1.0"/>
<circle cx="701.7" cy="740.3" r="1.2" fill="#e8a070" opacity="1.0"/>
<circle cx="704.7" cy="741.3" r="1.2" fill="#b0d050" opacity="1.0"/>
<circle cx="707.7" cy="742.3" r="1.2" fill="#4050c0" opacity="1.0"/>
<circle cx="716.8" cy="733.5" r="1.2" fill="#2a3ae0" opacity="0.9"/>
<circle cx="720.9" cy="734.5" r="1.2" fill="#2a3ae0" opacity="0.9"/>
<circle cx="725.1" cy="735.5" r="1.2" fill="#e86050" opacity="0.9"/>
<circle cx="729.3" cy="736.4" r="1.2" fill="#c0e840" opacity="0.9"/>
<circle cx="733.5" cy="737.4" r="1.2" fill="#2a3ae0" opacity="0.9"/>
<circle cx="737.7" cy="738.4" r="1.2" fill="#e0f8c8" opacity="0.9"/>
<circle cx="741.9" cy="739.4" r="1.2" fill="#2a3ae0" opacity="0.9"/>
<circle cx="746.1" cy="740.3" r="1.2" fill="#e8a070" opacity="0.9"/>
<circle cx="750.3" cy="741.3" r="1.2" fill="#2a3ae0" opacity="0.9"/>
<circle cx="754.4" cy="742.3" r="1.2" fill="#2a3ae0" opacity="0.9"/>
<circle cx="446.6" cy="762.8" r="1.2" fill="#3050e8" opacity="0.7"/>
<circle cx="441.8" cy="764.7" r="1.2" fill="#2030e0" opacity="0.7"/>
<circle cx="437.1" cy="766.6" r="1.2" fill="#2030e0" opacity="0.7"/>
<circle cx="432.3" cy="768.6" r="1.2" fill="#3050e8" opacity="0.7"/>
<circle cx="427.5" cy="770.5" r="1.2" fill="#2030e0" opacity="0.7"/>
<circle cx="422.7" cy="772.5" r="1.2" fill="#2030e0" opacity="0.7"/>
<circle cx="417.9" cy="774.4" r="1.2" fill="#3050e8" opacity="0.7"/>
<circle cx="413.1" cy="776.4" r="1.2" fill="#2030e0" opacity="0.7"/>
<circle cx="408.4" cy="778.3" r="1.2" fill="#2030e0" opacity="0.7"/>
<circle cx="403.6" cy="780.2" r="1.2" fill="#3050e8" opacity="0.7"/>
<circle cx="482.6" cy="762.8" r="1.2" fill="#3050e8" opacity="0.85"/>
<circle cx="479.1" cy="764.7" r="1.2" fill="#2030e0" opacity="0.85"/>
<circle cx="475.5" cy="766.6" r="1.2" fill="#2030e0" opacity="0.85"/>
<circle cx="471.9" cy="768.6" r="1.2" fill="#3050e8" opacity="0.85"/>
<circle cx="468.3" cy="770.5" r="1.2" fill="#2030e0" opacity="0.85"/>
<circle cx="464.7" cy="772.5" r="1.2" fill="#2030e0" opacity="0.85"/>
<circle cx="461.1" cy="774.4" r="1.2" fill="#3050e8" opacity="0.85"/>
<circle cx="457.5" cy="776.4" r="1.2" fill="#2030e0" opacity="0.85"/>
<circle cx="453.9" cy="778.3" r="1.2" fill="#2030e0" opacity="0.85"/>
<circle cx="450.4" cy="780.2" r="1.2" fill="#3050e8" opacity="0.85"/>
<circle cx="518.7" cy="762.8" r="1.2" fill="#2838e0" opacity="1.0"/>
<circle cx="516.3" cy="764.7" r="1.2" fill="#40d860" opacity="1.0"/>
<circle cx="513.9" cy="766.6" r="1.2" fill="#e86050" opacity="1.0"/>
<circle cx="511.5" cy="768.6" r="1.2" fill="#c0e840" opacity="1.0"/>
<circle cx="509.1" cy="770.5" r="1.2" fill="#d0f0b0" opacity="1.0"/>
<circle cx="506.7" cy="772.5" r="1.2" fill="#e0f8c8" opacity="1.0"/>
<circle cx="504.3" cy="774.4" r="1.2" fill="#c0f040" opacity="1.0"/>
<circle cx="501.9" cy="776.4" r="1.2" fill="#e8a070" opacity="1.0"/>
<circle cx="499.5" cy="778.3" r="1.2" fill="#b0d050" opacity="1.0"/>
<circle cx="497.1" cy="780.2" r="1.2" fill="#4050c0" opacity="1.0"/>
<line x1="554.7" y1="762.8" x2="543.9" y2="780.2" stroke="#0a0a90" stroke-width="1.2" opacity="0.8"/>
<line x1="590.7" y1="762.8" x2="590.7" y2="780.2" stroke="#fff" stroke-width="2.6" stroke-linecap="round"/>
<line x1="626.7" y1="762.8" x2="637.5" y2="780.2" stroke="#0a0a90" stroke-width="1.2" opacity="0.8"/>
<circle cx="662.7" cy="762.8" r="1.2" fill="#2838e0" opacity="1.0"/>
<circle cx="665.1" cy="764.7" r="1.2" fill="#40d860" opacity="1.0"/>
<circle cx="667.5" cy="766.6" r="1.2" fill="#e86050" opacity="1.0"/>
<circle cx="669.9" cy="768.6" r="1.2" fill="#c0e840" opacity="1.0"/>
<circle cx="672.3" cy="770.5" r="1.2" fill="#d0f0b0" opacity="1.0"/>
<circle cx="674.7" cy="772.5" r="1.2" fill="#e0f8c8" opacity="1.0"/>
<circle cx="677.1" cy="774.4" r="1.2" fill="#c0f040" opacity="1.0"/>
<circle cx="679.5" cy="776.4" r="1.2" fill="#e8a070" opacity="1.0"/>
<circle cx="681.9" cy="778.3" r="1.2" fill="#b0d050" opacity="1.0"/>
<circle cx="684.3" cy="780.2" r="1.2" fill="#4050c0" opacity="1.0"/>
<circle cx="698.8" cy="762.8" r="1.2" fill="#3050e8" opacity="0.85"/>
<circle cx="702.3" cy="764.7" r="1.2" fill="#2030e0" opacity="0.85"/>
<circle cx="705.9" cy="766.6" r="1.2" fill="#2030e0" opacity="0.85"/>
<circle cx="709.5" cy="768.6" r="1.2" fill="#3050e8" opacity="0.85"/>
<circle cx="713.1" cy="770.5" r="1.2" fill="#2030e0" opacity="0.85"/>
<circle cx="716.7" cy="772.5" r="1.2" fill="#2030e0" opacity="0.85"/>
<circle cx="720.3" cy="774.4" r="1.2" fill="#3050e8" opacity="0.85"/>
<circle cx="723.9" cy="776.4" r="1.2" fill="#2030e0" opacity="0.85"/>
<circle cx="727.5" cy="778.3" r="1.2" fill="#2030e0" opacity="0.85"/>
<circle cx="731.0" cy="780.2" r="1.2" fill="#3050e8" opacity="0.85"/>
<circle cx="734.8" cy="762.8" r="1.2" fill="#3050e8" opacity="0.7"/>
<circle cx="739.6" cy="764.7" r="1.2" fill="#2030e0" opacity="0.7"/>
<circle cx="744.3" cy="766.6" r="1.2" fill="#2030e0" opacity="0.7"/>
<circle cx="749.1" cy="768.6" r="1.2" fill="#3050e8" opacity="0.7"/>
<circle cx="753.9" cy="770.5" r="1.2" fill="#2030e0" opacity="0.7"/>
<circle cx="758.7" cy="772.5" r="1.2" fill="#2030e0" opacity="0.7"/>
<circle cx="763.5" cy="774.4" r="1.2" fill="#3050e8" opacity="0.7"/>
<circle cx="768.3" cy="776.4" r="1.2" fill="#2030e0" opacity="0.7"/>
<circle cx="773.0" cy="778.3" r="1.2" fill="#2030e0" opacity="0.7"/>
<circle cx="777.8" cy="780.2" r="1.2" fill="#3050e8" opacity="0.7"/>
<circle cx="464.6" cy="792.0" r="1.2" fill="#3050e8" opacity="0.7"/>
<circle cx="460.5" cy="794.9" r="1.2" fill="#2030e0" opacity="0.7"/>
<circle cx="456.3" cy="797.8" r="1.2" fill="#2030e0" opacity="0.7"/>
<circle cx="452.1" cy="800.7" r="1.2" fill="#3050e8" opacity="0.7"/>
<circle cx="447.9" cy="803.6" r="1.2" fill="#2030e0" opacity="0.7"/>
<circle cx="443.7" cy="806.6" r="1.2" fill="#2030e0" opacity="0.7"/>
<circle cx="439.5" cy="809.5" r="1.2" fill="#3050e8" opacity="0.7"/>
<circle cx="435.3" cy="812.4" r="1.2" fill="#2030e0" opacity="0.7"/>
<circle cx="431.1" cy="815.3" r="1.2" fill="#2030e0" opacity="0.7"/>
<circle cx="427.0" cy="818.2" r="1.2" fill="#3050e8" opacity="0.7"/>
<circle cx="500.7" cy="792.0" r="1.2" fill="#2a3ae0" opacity="0.9"/>
<circle cx="497.7" cy="794.9" r="1.2" fill="#2a3ae0" opacity="0.9"/>
<circle cx="494.7" cy="797.8" r="1.2" fill="#e86050" opacity="0.9"/>
<circle cx="491.7" cy="800.7" r="1.2" fill="#c0e840" opacity="0.9"/>
<circle cx="488.7" cy="803.6" r="1.2" fill="#2a3ae0" opacity="0.9"/>
<circle cx="485.7" cy="806.6" r="1.2" fill="#e0f8c8" opacity="0.9"/>
<circle cx="482.7" cy="809.5" r="1.2" fill="#2a3ae0" opacity="0.9"/>
<circle cx="479.7" cy="812.4" r="1.2" fill="#e8a070" opacity="0.9"/>
<circle cx="476.7" cy="815.3" r="1.2" fill="#2a3ae0" opacity="0.9"/>
<circle cx="473.7" cy="818.2" r="1.2" fill="#2a3ae0" opacity="0.9"/>
<circle cx="536.7" cy="792.0" r="1.2" fill="#2838e0" opacity="1.0"/>
<circle cx="534.9" cy="794.9" r="1.2" fill="#40d860" opacity="1.0"/>
<circle cx="533.1" cy="797.8" r="1.2" fill="#e86050" opacity="1.0"/>
<circle cx="531.3" cy="800.7" r="1.2" fill="#c0e840" opacity="1.0"/>
<circle cx="529.5" cy="803.6" r="1.2" fill="#d0f0b0" opacity="1.0"/>
<circle cx="527.7" cy="806.6" r="1.2" fill="#e0f8c8" opacity="1.0"/>
<circle cx="525.9" cy="809.5" r="1.2" fill="#c0f040" opacity="1.0"/>
<circle cx="524.1" cy="812.4" r="1.2" fill="#e8a070" opacity="1.0"/>
<circle cx="522.3" cy="815.3" r="1.2" fill="#b0d050" opacity="1.0"/>
<circle cx="520.5" cy="818.2" r="1.2" fill="#4050c0" opacity="1.0"/>
<circle cx="572.7" cy="792.0" r="1.2" fill="#2838e0" opacity="1.0"/>
<circle cx="572.1" cy="794.9" r="1.2" fill="#40d860" opacity="1.0"/>
<circle cx="571.5" cy="797.8" r="1.2" fill="#e86050" opacity="1.0"/>
<circle cx="570.9" cy="800.7" r="1.2" fill="#c0e840" opacity="1.0"/>
<circle cx="570.3" cy="803.6" r="1.2" fill="#d0f0b0" opacity="1.0"/>
<circle cx="569.7" cy="806.6" r="1.2" fill="#e0f8c8" opacity="1.0"/>
<circle cx="569.1" cy="809.5" r="1.2" fill="#c0f040" opacity="1.0"/>
<circle cx="568.5" cy="812.4" r="1.2" fill="#e8a070" opacity="1.0"/>
<circle cx="567.9" cy="815.3" r="1.2" fill="#b0d050" opacity="1.0"/>
<circle cx="567.3" cy="818.2" r="1.2" fill="#4050c0" opacity="1.0"/>
<circle cx="608.7" cy="792.0" r="1.2" fill="#2838e0" opacity="1.0"/>
<circle cx="609.3" cy="794.9" r="1.2" fill="#40d860" opacity="1.0"/>
<circle cx="609.9" cy="797.8" r="1.2" fill="#e86050" opacity="1.0"/>
<circle cx="610.5" cy="800.7" r="1.2" fill="#c0e840" opacity="1.0"/>
<circle cx="611.1" cy="803.6" r="1.2" fill="#d0f0b0" opacity="1.0"/>
<circle cx="611.7" cy="806.6" r="1.2" fill="#e0f8c8" opacity="1.0"/>
<circle cx="612.3" cy="809.5" r="1.2" fill="#c0f040" opacity="1.0"/>
<circle cx="612.9" cy="812.4" r="1.2" fill="#e8a070" opacity="1.0"/>
<circle cx="613.5" cy="815.3" r="1.2" fill="#b0d050" opacity="1.0"/>
<circle cx="614.1" cy="818.2" r="1.2" fill="#4050c0" opacity="1.0"/>
<circle cx="644.7" cy="792.0" r="1.2" fill="#2838e0" opacity="1.0"/>
<circle cx="646.5" cy="794.9" r="1.2" fill="#40d860" opacity="1.0"/>
<circle cx="648.3" cy="797.8" r="1.2" fill="#e86050" opacity="1.0"/>
<circle cx="650.1" cy="800.7" r="1.2" fill="#c0e840" opacity="1.0"/>
<circle cx="651.9" cy="803.6" r="1.2" fill="#d0f0b0" opacity="1.0"/>
<circle cx="653.7" cy="806.6" r="1.2" fill="#e0f8c8" opacity="1.0"/>
<circle cx="655.5" cy="809.5" r="1.2" fill="#c0f040" opacity="1.0"/>
<circle cx="657.3" cy="812.4" r="1.2" fill="#e8a070" opacity="1.0"/>
<circle cx="659.1" cy="815.3" r="1.2" fill="#b0d050" opacity="1.0"/>
<circle cx="660.9" cy="818.2" r="1.2" fill="#4050c0" opacity="1.0"/>
<circle cx="680.7" cy="792.0" r="1.2" fill="#2a3ae0" opacity="0.9"/>
<circle cx="683.7" cy="794.9" r="1.2" fill="#2a3ae0" opacity="0.9"/>
<circle cx="686.7" cy="797.8" r="1.2" fill="#e86050" opacity="0.9"/>
<circle cx="689.7" cy="800.7" r="1.2" fill="#c0e840" opacity="0.9"/>
<circle cx="692.7" cy="803.6" r="1.2" fill="#2a3ae0" opacity="0.9"/>
<circle cx="695.7" cy="806.6" r="1.2" fill="#e0f8c8" opacity="0.9"/>
<circle cx="698.7" cy="809.5" r="1.2" fill="#2a3ae0" opacity="0.9"/>
<circle cx="701.7" cy="812.4" r="1.2" fill="#e8a070" opacity="0.9"/>
<circle cx="704.7" cy="815.3" r="1.2" fill="#2a3ae0" opacity="0.9"/>
<circle cx="707.7" cy="818.2" r="1.2" fill="#2a3ae0" opacity="0.9"/>
<circle cx="716.8" cy="792.0" r="1.2" fill="#3050e8" opacity="0.7"/>
<circle cx="720.9" cy="794.9" r="1.2" fill="#2030e0" opacity="0.7"/>
<circle cx="725.1" cy="797.8" r="1.2" fill="#2030e0" opacity="0.7"/>
<circle cx="729.3" cy="800.7" r="1.2" fill="#3050e8" opacity="0.7"/>
<circle cx="733.5" cy="803.6" r="1.2" fill="#2030e0" opacity="0.7"/>
<circle cx="737.7" cy="806.6" r="1.2" fill="#2030e0" opacity="0.7"/>
<circle cx="741.9" cy="809.5" r="1.2" fill="#3050e8" opacity="0.7"/>
<circle cx="746.1" cy="812.4" r="1.2" fill="#2030e0" opacity="0.7"/>
<circle cx="750.3" cy="815.3" r="1.2" fill="#2030e0" opacity="0.7"/>
<circle cx="754.4" cy="818.2" r="1.2" fill="#3050e8" opacity="0.7"/>
</g>
<rect x="397.5" y="703" width="2.2" height="2.4" fill="#a0b0ff"/>
<rect x="402.1" y="703" width="2.2" height="2.4" fill="#d0d8f0"/>
<rect x="406.7" y="703" width="2.2" height="2.4" fill="#d0d8f0"/>
<rect x="411.3" y="703" width="2.2" height="2.4" fill="#a0b0ff"/>
<rect x="415.9" y="703" width="2.2" height="2.4" fill="#d0d8f0"/>
<rect x="420.5" y="703" width="2.2" height="2.4" fill="#d0d8f0"/>
<rect x="425.1" y="703" width="2.2" height="2.4" fill="#a0b0ff"/>
<rect x="429.7" y="703" width="2.2" height="2.4" fill="#d0d8f0"/>
<rect x="434.3" y="703" width="2.2" height="2.4" fill="#d0d8f0"/>
<rect x="438.9" y="703" width="2.2" height="2.4" fill="#a0b0ff"/>
<rect x="443.5" y="703" width="2.2" height="2.4" fill="#d0d8f0"/>
<rect x="448.1" y="703" width="2.2" height="2.4" fill="#d0d8f0"/>
<rect x="452.7" y="703" width="2.2" height="2.4" fill="#a0b0ff"/>
<rect x="457.3" y="703" width="2.2" height="2.4" fill="#d0d8f0"/>
<rect x="461.9" y="703" width="2.2" height="2.4" fill="#d0d8f0"/>
<rect x="466.5" y="703" width="2.2" height="2.4" fill="#a0b0ff"/>
<rect x="471.1" y="703" width="2.2" height="2.4" fill="#d0d8f0"/>
<rect x="475.7" y="703" width="2.2" height="2.4" fill="#d0d8f0"/>
<rect x="480.3" y="703" width="2.2" height="2.4" fill="#a0b0ff"/>
<rect x="484.9" y="703" width="2.2" height="2.4" fill="#d0d8f0"/>
<rect x="489.5" y="703" width="2.2" height="2.4" fill="#d0d8f0"/>
<rect x="494.1" y="703" width="2.2" height="2.4" fill="#a0b0ff"/>
<rect x="498.7" y="703" width="2.2" height="2.4" fill="#d0d8f0"/>
<rect x="503.3" y="703" width="2.2" height="2.4" fill="#d0d8f0"/>
<rect x="507.9" y="703" width="2.2" height="2.4" fill="#a0b0ff"/>
<rect x="512.5" y="703" width="2.2" height="2.4" fill="#d0d8f0"/>
<rect x="517.1" y="703" width="2.2" height="2.4" fill="#d0d8f0"/>
<rect x="521.7" y="703" width="2.2" height="2.4" fill="#a0b0ff"/>
<circle cx="699.5" cy="704.2" r="1.2" fill="#6080ff"/>
<circle cx="704.1" cy="704.2" r="1.2" fill="#80e0a0"/>
<circle cx="708.7" cy="704.2" r="1.2" fill="#c0d0ff"/>
<circle cx="713.3" cy="704.2" r="1.2" fill="#4060ff"/>
<circle cx="717.9" cy="704.2" r="1.2" fill="#6080ff"/>
<circle cx="722.5" cy="704.2" r="1.2" fill="#80e0a0"/>
<circle cx="727.1" cy="704.2" r="1.2" fill="#c0d0ff"/>
<circle cx="731.7" cy="704.2" r="1.2" fill="#4060ff"/>
<circle cx="736.3" cy="704.2" r="1.2" fill="#6080ff"/>
<circle cx="740.9" cy="704.2" r="1.2" fill="#80e0a0"/>
<circle cx="745.5" cy="704.2" r="1.2" fill="#c0d0ff"/>
<circle cx="750.1" cy="704.2" r="1.2" fill="#4060ff"/>
<circle cx="754.7" cy="704.2" r="1.2" fill="#6080ff"/>
<circle cx="759.3" cy="704.2" r="1.2" fill="#80e0a0"/>
<circle cx="763.9" cy="704.2" r="1.2" fill="#c0d0ff"/>
<circle cx="768.5" cy="704.2" r="1.2" fill="#4060ff"/>
<circle cx="773.1" cy="704.2" r="1.2" fill="#6080ff"/>
<circle cx="777.7" cy="704.2" r="1.2" fill="#80e0a0"/>
<text x="404.7" y="605.2" font-size="19" fill="#fff" textLength="19.5" lengthAdjust="spacingAndGlyphs">(e)</text>
<text x="601.5" y="657.6" font-size="16.1" fill="#fff" textLength="25.3" lengthAdjust="spacingAndGlyphs">010</text>
<text x="626.5" y="695.2" font-size="15.6" fill="#fff" textLength="24.1" lengthAdjust="spacingAndGlyphs">100</text>
<text x="413.7" y="726.1" font-size="15.8" fill="#fff" textLength="90.5" lengthAdjust="spacingAndGlyphs">Radial mode</text>
<rect x="5.5" y="822.2" width="221.2" height="77.3" fill="#fff" stroke="#c8c8c8" stroke-width="0.8"/>
<line x1="5.5" y1="899.5" x2="226.7" y2="899.5" stroke="#9a9a9a" stroke-width="0.8"/>
<line x1="6.3" y1="897.5" x2="6.3" y2="899.5" stroke="#aaa" stroke-width="0.6"/>
<line x1="28.4" y1="897.5" x2="28.4" y2="899.5" stroke="#aaa" stroke-width="0.6"/>
<line x1="50.4" y1="897.5" x2="50.4" y2="899.5" stroke="#aaa" stroke-width="0.6"/>
<line x1="72.5" y1="897.5" x2="72.5" y2="899.5" stroke="#aaa" stroke-width="0.6"/>
<line x1="94.6" y1="897.5" x2="94.6" y2="899.5" stroke="#aaa" stroke-width="0.6"/>
<line x1="116.6" y1="897.5" x2="116.6" y2="899.5" stroke="#aaa" stroke-width="0.6"/>
<line x1="138.7" y1="897.5" x2="138.7" y2="899.5" stroke="#aaa" stroke-width="0.6"/>
<line x1="160.8" y1="897.5" x2="160.8" y2="899.5" stroke="#aaa" stroke-width="0.6"/>
<line x1="182.9" y1="897.5" x2="182.9" y2="899.5" stroke="#aaa" stroke-width="0.6"/>
<line x1="204.9" y1="897.5" x2="204.9" y2="899.5" stroke="#aaa" stroke-width="0.6"/>
<path d="M5.60,895.30 L5.85,895.20 L6.10,895.09 L6.35,894.97 L6.60,894.85 L6.85,894.71 L7.10,894.56 L7.35,894.40 L7.60,894.22 L7.85,894.03 L8.10,893.82 L8.35,893.60 L8.60,893.35 L8.85,893.07 L9.10,892.77 L9.35,892.44 L9.60,892.06 L9.85,891.65 L10.10,891.18 L10.35,890.65 L10.60,890.06 L10.85,889.39 L11.10,888.62 L11.35,887.73 L11.60,886.71 L11.85,885.52 L12.10,884.13 L12.35,882.49 L12.60,880.53 L12.85,878.18 L13.10,875.34 L13.35,871.86 L13.60,867.58 L13.85,862.25 L14.10,855.59 L14.35,847.24 L14.60,836.82 L14.85,824.07 L15.10,822.80 L15.35,822.80 L15.60,822.80 L15.85,822.80 L16.10,822.80 L16.35,822.80 L16.60,822.80 L16.85,822.80 L17.10,822.80 L17.35,834.28 L17.60,845.11 L17.85,853.81 L18.10,860.75 L18.35,866.28 L18.60,870.71 L18.85,874.29 L19.10,877.21 L19.35,879.61 L19.60,881.60 L19.85,883.26 L20.10,884.65 L20.35,885.83 L20.60,886.84 L20.85,887.70 L21.10,888.44 L21.35,889.08 L21.60,889.64 L21.85,890.12 L22.10,890.53 L22.35,890.90 L22.60,891.21 L22.85,891.48 L23.10,891.72 L23.35,891.92 L23.60,892.09 L23.85,892.24 L24.10,892.36 L24.35,892.45 L24.60,892.52 L24.85,892.58 L25.10,892.61 L25.35,892.62 L25.60,892.60 L25.85,892.57 L26.10,892.52 L26.35,892.45 L26.60,892.35 L26.85,892.23 L27.10,892.09 L27.35,891.92 L27.60,891.71 L27.85,891.48 L28.10,891.20 L28.35,890.89 L28.60,890.52 L28.85,890.11 L29.10,889.63 L29.35,889.07 L29.60,888.43 L29.85,887.69 L30.10,886.83 L30.35,885.82 L30.60,884.64 L30.85,883.24 L31.10,881.59 L31.35,879.60 L31.60,877.20 L31.85,874.28 L32.10,870.69 L32.35,866.26 L32.60,860.73 L32.85,853.79 L33.10,845.09 L33.35,834.26 L33.60,822.80 L33.85,822.80 L34.10,822.80 L34.35,822.80 L34.60,822.80 L34.85,822.80 L35.10,822.80 L35.35,822.80 L35.60,822.80 L35.85,824.05 L36.10,836.80 L36.35,847.21 L36.60,855.56 L36.85,862.22 L37.10,867.55 L37.35,871.83 L37.60,875.31 L37.85,878.15 L38.10,880.50 L38.35,882.45 L38.60,884.10 L38.85,885.49 L39.10,886.68 L39.35,887.70 L39.60,888.58 L39.85,889.35 L40.10,890.02 L40.35,890.62 L40.60,891.14 L40.85,891.61 L41.10,892.02 L41.35,892.39 L41.60,892.73 L41.85,893.03 L42.10,893.30 L42.35,893.55 L42.60,893.78 L42.85,893.99 L43.10,894.18 L43.35,894.35 L43.60,894.51 L43.85,894.66 L44.10,894.80 L44.35,894.92 L44.60,895.04 L44.85,895.15 L45.10,895.25 L45.35,895.35 L45.60,895.44 L45.85,895.52 L46.10,895.60 L46.35,895.67 L46.60,895.74 L46.85,895.80 L47.10,895.86 L47.35,895.92 L47.60,895.98 L47.85,896.03 L48.10,896.08 L48.35,896.12 L48.60,896.17 L48.85,896.21 L49.10,896.25 L49.35,896.28 L49.60,896.32 L49.85,896.35 L50.10,896.39 L50.35,896.42 L50.60,896.45 L50.85,896.47 L51.10,896.50 L51.35,896.53 L51.60,896.55 L51.85,896.58 L52.10,896.60 L52.35,896.62 L52.60,896.64 L52.85,896.66 L53.10,896.68 L53.35,896.70 L53.60,896.71 L53.85,896.73 L54.10,896.75 L54.35,896.76 L54.60,896.78 L54.85,896.79 L55.10,896.81 L55.35,896.82 L55.60,896.83 L55.85,896.84 L56.10,896.86 L56.35,896.87 L56.60,896.88 L56.85,896.89 L57.10,896.90 L57.35,896.91 L57.60,896.92 L57.85,896.93 L58.10,896.94 L58.35,896.95 L58.60,896.95 L58.85,896.96 L59.10,896.97 L59.35,896.98 L59.60,896.98 L59.85,896.99 L60.10,897.00 L60.35,897.00 L60.60,897.01 L60.85,897.02 L61.10,897.02 L61.35,897.03 L61.60,897.03 L61.85,897.04 L62.10,897.04 L62.35,897.05 L62.60,897.05 L62.85,897.06 L63.10,897.06 L63.35,897.06 L63.60,897.07 L63.85,897.07 L64.10,897.07 L64.35,897.08 L64.60,897.08 L64.85,897.08 L65.10,897.09 L65.35,897.09 L65.60,897.09 L65.85,897.09 L66.10,897.10 L66.35,897.10 L66.60,897.10 L66.85,897.10 L67.10,897.10 L67.35,897.11 L67.60,897.11 L67.85,897.11 L68.10,897.11 L68.35,897.11 L68.60,897.11 L68.85,897.11 L69.10,897.11 L69.35,897.11 L69.60,897.11 L69.85,897.12 L70.10,897.12 L70.35,897.12 L70.60,897.12 L70.85,897.12 L71.10,897.12 L71.35,897.11 L71.60,897.11 L71.85,897.11 L72.10,897.11 L72.35,897.11 L72.60,897.11 L72.85,897.11 L73.10,897.11 L73.35,897.11 L73.60,897.11 L73.85,897.10 L74.10,897.10 L74.35,897.10 L74.60,897.10 L74.85,897.10 L75.10,897.09 L75.35,897.09 L75.60,897.09 L75.85,897.09 L76.10,897.08 L76.35,897.08 L76.60,897.08 L76.85,897.07 L77.10,897.07 L77.35,897.07 L77.60,897.06 L77.85,897.06 L78.10,897.05 L78.35,897.05 L78.60,897.05 L78.85,897.04 L79.10,897.04 L79.35,897.03 L79.60,897.02 L79.85,897.02 L80.10,897.01 L80.35,897.01 L80.60,897.00 L80.85,896.99 L81.10,896.99 L81.35,896.98 L81.60,896.97 L81.85,896.96 L82.10,896.96 L82.35,896.95 L82.60,896.94 L82.85,896.93 L83.10,896.92 L83.35,896.91 L83.60,896.90 L83.85,896.89 L84.10,896.88 L84.35,896.87 L84.60,896.85 L84.85,896.84 L85.10,896.83 L85.35,896.82 L85.60,896.80 L85.85,896.79 L86.10,896.77 L86.35,896.76 L86.60,896.74 L86.85,896.72 L87.10,896.70 L87.35,896.68 L87.60,896.66 L87.85,896.64 L88.10,896.62 L88.35,896.60 L88.60,896.58 L88.85,896.55 L89.10,896.52 L89.35,896.50 L89.60,896.47 L89.85,896.44 L90.10,896.41 L90.35,896.37 L90.60,896.34 L90.85,896.30 L91.10,896.26 L91.35,896.22 L91.60,896.17 L91.85,896.13 L92.10,896.08 L92.35,896.03 L92.60,895.97 L92.85,895.91 L93.10,895.85 L93.35,895.78 L93.60,895.71 L93.85,895.64 L94.10,895.55 L94.35,895.47 L94.60,895.37 L94.85,895.27 L95.10,895.16 L95.35,895.04 L95.60,894.92 L95.85,894.78 L96.10,894.63 L96.35,894.46 L96.60,894.29 L96.85,894.09 L97.10,893.87 L97.35,893.64 L97.60,893.37 L97.85,893.08 L98.10,892.76 L98.35,892.40 L98.60,891.99 L98.85,891.54 L99.10,891.03 L99.35,890.44 L99.60,889.78 L99.85,889.02 L100.10,888.15 L100.35,887.14 L100.60,885.97 L100.85,884.61 L101.10,883.03 L101.35,881.17 L101.60,878.99 L101.85,876.44 L102.10,873.48 L102.35,870.09 L102.60,866.28 L102.85,862.16 L103.10,857.95 L103.35,854.01 L103.60,850.86 L103.85,849.01 L104.10,848.81 L104.35,850.30 L104.60,853.18 L104.85,856.95 L105.10,861.09 L105.35,865.20 L105.60,869.02 L105.85,872.45 L106.10,875.43 L106.35,878.00 L106.60,880.19 L106.85,882.05 L107.10,883.62 L107.35,884.96 L107.60,886.10 L107.85,887.06 L108.10,887.89 L108.35,888.59 L108.60,889.19 L108.85,889.70 L109.10,890.14 L109.35,890.51 L109.60,890.82 L109.85,891.08 L110.10,891.29 L110.35,891.47 L110.60,891.60 L110.85,891.71 L111.10,891.77 L111.35,891.81 L111.60,891.81 L111.85,891.79 L112.10,891.73 L112.35,891.64 L112.60,891.52 L112.85,891.37 L113.10,891.18 L113.35,890.94 L113.60,890.67 L113.85,890.34 L114.10,889.97 L114.35,889.52 L114.60,889.01 L114.85,888.42 L115.10,887.74 L115.35,886.94 L115.60,886.02 L115.85,884.94 L116.10,883.69 L116.35,882.22 L116.60,880.50 L116.85,878.47 L117.10,876.09 L117.35,873.28 L117.60,870.00 L117.85,866.19 L118.10,861.82 L118.35,856.94 L118.60,851.70 L118.85,846.43 L119.10,841.63 L119.35,837.95 L119.60,836.04 L119.85,836.28 L120.10,838.63 L120.35,842.63 L120.60,847.62 L120.85,852.96 L121.10,858.19 L121.35,863.02 L121.60,867.32 L121.85,871.07 L122.10,874.30 L122.35,877.06 L122.60,879.42 L122.85,881.43 L123.10,883.15 L123.35,884.63 L123.60,885.90 L123.85,887.01 L124.10,887.96 L124.35,888.80 L124.60,889.54 L124.85,890.19 L125.10,890.76 L125.35,891.27 L125.60,891.72 L125.85,892.13 L126.10,892.49 L126.35,892.82 L126.60,893.12 L126.85,893.39 L127.10,893.64 L127.35,893.86 L127.60,894.07 L127.85,894.26 L128.10,894.43 L128.35,894.59 L128.60,894.74 L128.85,894.87 L129.10,895.00 L129.35,895.12 L129.60,895.23 L129.85,895.33 L130.10,895.42 L130.35,895.51 L130.60,895.59 L130.85,895.67 L131.10,895.74 L131.35,895.81 L131.60,895.88 L131.85,895.94 L132.10,896.00 L132.35,896.05 L132.60,896.10 L132.85,896.15 L133.10,896.20 L133.35,896.24 L133.60,896.28 L133.85,896.32 L134.10,896.36 L134.35,896.40 L134.60,896.43 L134.85,896.46 L135.10,896.49 L135.35,896.52 L135.60,896.55 L135.85,896.58 L136.10,896.61 L136.35,896.63 L136.60,896.65 L136.85,896.68 L137.10,896.70 L137.35,896.72 L137.60,896.74 L137.85,896.76 L138.10,896.78 L138.35,896.80 L138.60,896.81 L138.85,896.83 L139.10,896.85 L139.35,896.86 L139.60,896.88 L139.85,896.89 L140.10,896.91 L140.35,896.92 L140.60,896.93 L140.85,896.94 L141.10,896.96 L141.35,896.97 L141.60,896.98 L141.85,896.99 L142.10,897.00 L142.35,897.01 L142.60,897.02 L142.85,897.03 L143.10,897.04 L143.35,897.05 L143.60,897.06 L143.85,897.07 L144.10,897.08 L144.35,897.08 L144.60,897.09 L144.85,897.10 L145.10,897.11 L145.35,897.11 L145.60,897.12 L145.85,897.13 L146.10,897.13 L146.35,897.14 L146.60,897.14 L146.85,897.15 L147.10,897.16 L147.35,897.16 L147.60,897.17 L147.85,897.17 L148.10,897.18 L148.35,897.18 L148.60,897.19 L148.85,897.19 L149.10,897.20 L149.35,897.20 L149.60,897.21 L149.85,897.21 L150.10,897.21 L150.35,897.19 L150.60,897.18 L150.85,897.17 L151.10,897.15 L151.35,897.14 L151.60,897.13 L151.85,897.11 L152.10,897.10 L152.35,897.09 L152.60,897.07 L152.85,897.06 L153.10,897.04 L153.35,897.03 L153.60,897.02 L153.85,897.00 L154.10,896.99 L154.35,896.97 L154.60,896.96 L154.85,896.94 L155.10,896.93 L155.35,896.91 L155.60,896.90 L155.85,896.88 L156.10,896.87 L156.35,896.85 L156.60,896.84 L156.85,896.82 L157.10,896.81 L157.35,896.79 L157.60,896.78 L157.85,896.76 L158.10,896.75 L158.35,896.73 L158.60,896.72 L158.85,896.70 L159.10,896.68 L159.35,896.67 L159.60,896.65 L159.85,896.64 L160.10,896.62 L160.35,896.60 L160.60,896.59 L160.85,896.57 L161.10,896.56 L161.35,896.54 L161.60,896.52 L161.85,896.51 L162.10,896.49 L162.35,896.47 L162.60,896.46 L162.85,896.44 L163.10,896.42 L163.35,896.40 L163.60,896.39 L163.85,896.37 L164.10,896.35 L164.35,896.34 L164.60,896.32 L164.85,896.30 L165.10,896.28 L165.35,896.27 L165.60,896.25 L165.85,896.23 L166.10,896.21 L166.35,896.20 L166.60,896.18 L166.85,896.16 L167.10,896.14 L167.35,896.12 L167.60,896.10 L167.85,896.09 L168.10,896.07 L168.35,896.05 L168.60,896.03 L168.85,896.01 L169.10,895.99 L169.35,895.97 L169.60,895.95 L169.85,895.94 L170.10,895.92 L170.35,895.90 L170.60,895.88 L170.85,895.86 L171.10,895.84 L171.35,895.82 L171.60,895.80 L171.85,895.78 L172.10,895.75 L172.35,895.73 L172.60,895.71 L172.85,895.69 L173.10,895.67 L173.35,895.65 L173.60,895.63 L173.85,895.60 L174.10,895.58 L174.35,895.56 L174.60,895.54 L174.85,895.51 L175.10,895.49 L175.35,895.47 L175.60,895.44 L175.85,895.42 L176.10,895.39 L176.35,895.37 L176.60,895.34 L176.85,895.32 L177.10,895.29 L177.35,895.26 L177.60,895.23 L177.85,895.21 L178.10,895.18 L178.35,895.15 L178.60,895.12 L178.85,895.09 L179.10,895.06 L179.35,895.02 L179.60,894.99 L179.85,894.96 L180.10,894.92 L180.35,894.88 L180.60,894.85 L180.85,894.81 L181.10,894.77 L181.35,894.73 L181.60,894.68 L181.85,894.64 L182.10,894.59 L182.35,894.54 L182.60,894.49 L182.85,894.44 L183.10,894.38 L183.35,894.32 L183.60,894.26 L183.85,894.19 L184.10,894.12 L184.35,894.04 L184.60,893.96 L184.85,893.88 L185.10,893.78 L185.35,893.68 L185.60,893.57 L185.85,893.46 L186.10,893.33 L186.35,893.19 L186.60,893.03 L186.85,892.86 L187.10,892.67 L187.35,892.46 L187.60,892.23 L187.85,891.97 L188.10,891.67 L188.35,891.33 L188.60,890.94 L188.85,890.50 L189.10,889.99 L189.35,889.40 L189.60,888.71 L189.85,887.90 L190.10,886.95 L190.35,885.84 L190.60,884.54 L190.85,883.03 L191.10,881.31 L191.35,879.40 L191.60,877.38 L191.85,875.40 L192.10,873.67 L192.35,872.47 L192.60,872.01 L192.85,872.39 L193.10,873.52 L193.35,875.17 L193.60,877.08 L193.85,879.02 L194.10,880.84 L194.35,882.48 L194.60,883.90 L194.85,885.11 L195.10,886.13 L195.35,886.98 L195.60,887.69 L195.85,888.27 L196.10,888.75 L196.35,889.14 L196.60,889.45 L196.85,889.70 L197.10,889.88 L197.35,890.01 L197.60,890.08 L197.85,890.11 L198.10,890.09 L198.35,890.01 L198.60,889.89 L198.85,889.70 L199.10,889.45 L199.35,889.12 L199.60,888.71 L199.85,888.21 L200.10,887.59 L200.35,886.86 L200.60,886.00 L200.85,885.02 L201.10,883.95 L201.35,882.85 L201.60,881.85 L201.85,881.07 L202.10,880.68 L202.35,880.74 L202.60,881.27 L202.85,882.15 L203.10,883.23 L203.35,884.37 L203.60,885.48 L203.85,886.49 L204.10,887.38 L204.35,888.15 L204.60,888.81 L204.85,889.38 L205.10,889.85 L205.35,890.25 L205.60,890.60 L205.85,890.89 L206.10,891.14 L206.35,891.35 L206.60,891.54 L206.85,891.70 L207.10,891.84 L207.35,891.96 L207.60,892.06 L207.85,892.16 L208.10,892.24 L208.35,892.31 L208.60,892.37 L208.85,892.43 L209.10,892.48 L209.35,892.52 L209.60,892.56 L209.85,892.59 L210.10,892.62 L210.35,892.64 L210.60,892.67 L210.85,892.69 L211.10,892.70 L211.35,892.72 L211.60,892.73 L211.85,892.74 L212.10,892.75 L212.35,892.75 L212.60,892.76 L212.85,892.76 L213.10,892.77 L213.35,892.77 L213.60,892.77 L213.85,892.77 L214.10,892.77 L214.35,892.77 L214.60,892.76 L214.85,892.76 L215.10,892.76 L215.35,892.75 L215.60,892.75 L215.85,892.74 L216.10,892.73 L216.35,892.73 L216.60,892.72 L216.85,892.71 L217.10,892.70 L217.35,892.70 L217.60,892.69 L217.85,892.68 L218.10,892.67 L218.35,892.66 L218.60,892.65 L218.85,892.64 L219.10,892.63 L219.35,892.62 L219.60,892.60 L219.85,892.59 L220.10,892.58 L220.35,892.57 L220.60,892.56 L220.85,892.55 L221.10,892.53 L221.35,892.52 L221.60,892.51 L221.85,892.50 L222.10,892.48 L222.35,892.47 L222.60,892.46 L222.85,892.45 L223.10,892.43 L223.35,892.42 L223.60,892.40 L223.85,892.39 L224.10,892.38 L224.35,892.36 L224.60,892.35 L224.85,892.34 L225.10,892.32 L225.35,892.31 L225.60,892.29 L225.85,892.28 L226.10,892.27 L226.35,892.25 L226.60,892.24" fill="none" stroke="#8a8a8a" stroke-width="0.8"/>
<text x="12.3" y="838.7" font-family="Liberation Serif" font-size="13.3" fill="#222" textLength="28.5" lengthAdjust="spacingAndGlyphs">(400)</text>
<text x="103.4" y="838.7" font-family="Liberation Serif" font-size="13.3" fill="#222" textLength="28" lengthAdjust="spacingAndGlyphs">(300)</text>
<text x="185.1" y="838.7" font-family="Liberation Serif" font-size="13.3" fill="#222" textLength="27.8" lengthAdjust="spacingAndGlyphs">(200)</text>
<line x1="17.5" y1="828.6" x2="23.5" y2="828.6" stroke="#222" stroke-width="0.8"/>
<line x1="108.7" y1="828.6" x2="114.7" y2="828.6" stroke="#222" stroke-width="0.8"/>
<line x1="190.3" y1="828.6" x2="196.3" y2="828.6" stroke="#222" stroke-width="0.8"/>
<text x="146.8" y="854.4" font-size="11.3" font-weight="bold" fill="#222" textLength="65.9" lengthAdjust="spacingAndGlyphs">Radial mode</text>
<rect x="396.9" y="823.6" width="220.3" height="75.7" fill="#fff" stroke="#c0c0c0" stroke-width="0.8"/>
<line x1="396.9" y1="899.3" x2="617.2" y2="899.3" stroke="#9a9a9a" stroke-width="0.8"/>
<line x1="396.9" y1="831.4" x2="398.6" y2="831.4" stroke="#bbb" stroke-width="0.6"/>
<line x1="396.9" y1="839.1" x2="398.6" y2="839.1" stroke="#bbb" stroke-width="0.6"/>
<line x1="396.9" y1="846.8" x2="398.6" y2="846.8" stroke="#bbb" stroke-width="0.6"/>
<line x1="396.9" y1="854.5" x2="398.6" y2="854.5" stroke="#bbb" stroke-width="0.6"/>
<line x1="396.9" y1="862.2" x2="398.6" y2="862.2" stroke="#bbb" stroke-width="0.6"/>
<line x1="396.9" y1="869.9" x2="398.6" y2="869.9" stroke="#bbb" stroke-width="0.6"/>
<line x1="396.9" y1="877.6" x2="398.6" y2="877.6" stroke="#bbb" stroke-width="0.6"/>
<line x1="396.9" y1="885.3" x2="398.6" y2="885.3" stroke="#bbb" stroke-width="0.6"/>
<line x1="396.9" y1="893.0" x2="398.6" y2="893.0" stroke="#bbb" stroke-width="0.6"/>
<path d="M397.50,899.20 L401.40,899.20 L404.00,881.70 L406.60,899.20 L411.20,899.20 L413.80,868.80 L416.40,899.20 L419.80,899.20 L422.40,855.00 L425.00,899.20 L428.70,899.20 L431.30,841.40 L433.90,899.20 L435.90,899.20 L438.50,824.20 L441.10,899.20 L443.20,899.20 L445.80,824.20 L448.40,899.20 L450.90,899.20 L453.50,837.20 L456.10,899.20 L457.00,899.20 L459.60,850.60 L462.20,899.20 L463.20,899.20 L465.80,864.40 L468.40,899.20 L469.10,899.20 L471.70,879.00 L474.30,899.20 L478.50,899.20 L480.30,899.20 L482.90,888.60 L487.70,896.60 L490.30,877.50 L494.10,895.00 L496.70,864.40 L500.00,894.50 L502.60,848.70 L506.20,893.50 L508.80,833.30 L512.30,893.00 L514.90,824.20 L517.50,893.00 L520.10,833.30 L522.50,893.50 L525.10,842.00 L527.30,894.00 L529.90,855.00 L530.90,895.00 L533.50,872.00 L536.50,899.20 L551.20,899.20 L551.50,896.40 L551.80,899.20 L559.50,899.20 L561.50,894.10 L564.20,898.70 L566.90,893.00 L568.40,895.70 L570.30,892.20 L573.00,898.30 L575.70,893.00 L577.20,896.00 L579.20,893.70 L581.10,896.80 L582.60,895.30 L584.50,897.20 L586.40,896.00 L588.40,897.90 L590.70,896.40 L592.00,897.60 L593.00,897.20 L594.30,898.20 L595.30,897.60 L597.60,899.00 L599.00,899.20 L616.50,899.20" fill="none" stroke="#a0a0a0" stroke-width="0.75"/>
<text x="405" y="836.5" font-family="Liberation Serif" font-size="13.3" fill="#222" textLength="28" lengthAdjust="spacingAndGlyphs">(400)</text>
<text x="496.4" y="836.5" font-family="Liberation Serif" font-size="13.3" fill="#222" textLength="27.8" lengthAdjust="spacingAndGlyphs">(300)</text>
<text x="572.4" y="835.8" font-family="Liberation Serif" font-size="13.3" fill="#222" textLength="27.8" lengthAdjust="spacingAndGlyphs">(200)</text>
<line x1="410.1" y1="824.8" x2="415.6" y2="824.8" stroke="#999" stroke-width="1"/>
<line x1="501.5" y1="824.8" x2="507.0" y2="824.8" stroke="#999" stroke-width="1"/>
<line x1="577.5" y1="824.8" x2="583.0" y2="824.8" stroke="#999" stroke-width="1"/>
<text x="534.6" y="853.9" font-size="11.3" font-weight="bold" fill="#222" textLength="65.6" lengthAdjust="spacingAndGlyphs">Radial mode</text>
<rect x="294.4" y="825.1" width="84.4" height="70.4" fill="none" stroke="#555" stroke-width="0.9"/>
<line x1="297.9" y1="895.5" x2="297.9" y2="894.5" stroke="#555" stroke-width="0.5"/>
<line x1="297.9" y1="825.1" x2="297.9" y2="826.1" stroke="#555" stroke-width="0.5"/>
<line x1="301.4" y1="895.5" x2="301.4" y2="894.5" stroke="#555" stroke-width="0.5"/>
<line x1="301.4" y1="825.1" x2="301.4" y2="826.1" stroke="#555" stroke-width="0.5"/>
<line x1="304.9" y1="895.5" x2="304.9" y2="894.5" stroke="#555" stroke-width="0.5"/>
<line x1="304.9" y1="825.1" x2="304.9" y2="826.1" stroke="#555" stroke-width="0.5"/>
<line x1="308.5" y1="895.5" x2="308.5" y2="894.5" stroke="#555" stroke-width="0.5"/>
<line x1="308.5" y1="825.1" x2="308.5" y2="826.1" stroke="#555" stroke-width="0.5"/>
<line x1="312.0" y1="895.5" x2="312.0" y2="894.5" stroke="#555" stroke-width="0.5"/>
<line x1="312.0" y1="825.1" x2="312.0" y2="826.1" stroke="#555" stroke-width="0.5"/>
<line x1="315.5" y1="895.5" x2="315.5" y2="894.5" stroke="#555" stroke-width="0.5"/>
<line x1="315.5" y1="825.1" x2="315.5" y2="826.1" stroke="#555" stroke-width="0.5"/>
<line x1="319.0" y1="895.5" x2="319.0" y2="894.5" stroke="#555" stroke-width="0.5"/>
<line x1="319.0" y1="825.1" x2="319.0" y2="826.1" stroke="#555" stroke-width="0.5"/>
<line x1="322.5" y1="895.5" x2="322.5" y2="893.7" stroke="#555" stroke-width="0.5"/>
<line x1="322.5" y1="825.1" x2="322.5" y2="826.9" stroke="#555" stroke-width="0.5"/>
<line x1="326.1" y1="895.5" x2="326.1" y2="894.5" stroke="#555" stroke-width="0.5"/>
<line x1="326.1" y1="825.1" x2="326.1" y2="826.1" stroke="#555" stroke-width="0.5"/>
<line x1="329.6" y1="895.5" x2="329.6" y2="894.5" stroke="#555" stroke-width="0.5"/>
<line x1="329.6" y1="825.1" x2="329.6" y2="826.1" stroke="#555" stroke-width="0.5"/>
<line x1="333.1" y1="895.5" x2="333.1" y2="894.5" stroke="#555" stroke-width="0.5"/>
<line x1="333.1" y1="825.1" x2="333.1" y2="826.1" stroke="#555" stroke-width="0.5"/>
<line x1="336.6" y1="895.5" x2="336.6" y2="894.5" stroke="#555" stroke-width="0.5"/>
<line x1="336.6" y1="825.1" x2="336.6" y2="826.1" stroke="#555" stroke-width="0.5"/>
<line x1="340.1" y1="895.5" x2="340.1" y2="894.5" stroke="#555" stroke-width="0.5"/>
<line x1="340.1" y1="825.1" x2="340.1" y2="826.1" stroke="#555" stroke-width="0.5"/>
<line x1="343.6" y1="895.5" x2="343.6" y2="894.5" stroke="#555" stroke-width="0.5"/>
<line x1="343.6" y1="825.1" x2="343.6" y2="826.1" stroke="#555" stroke-width="0.5"/>
<line x1="347.1" y1="895.5" x2="347.1" y2="894.5" stroke="#555" stroke-width="0.5"/>
<line x1="347.1" y1="825.1" x2="347.1" y2="826.1" stroke="#555" stroke-width="0.5"/>
<line x1="350.7" y1="895.5" x2="350.7" y2="893.7" stroke="#555" stroke-width="0.5"/>
<line x1="350.7" y1="825.1" x2="350.7" y2="826.9" stroke="#555" stroke-width="0.5"/>
<line x1="354.2" y1="895.5" x2="354.2" y2="894.5" stroke="#555" stroke-width="0.5"/>
<line x1="354.2" y1="825.1" x2="354.2" y2="826.1" stroke="#555" stroke-width="0.5"/>
<line x1="357.7" y1="895.5" x2="357.7" y2="894.5" stroke="#555" stroke-width="0.5"/>
<line x1="357.7" y1="825.1" x2="357.7" y2="826.1" stroke="#555" stroke-width="0.5"/>
<line x1="361.2" y1="895.5" x2="361.2" y2="894.5" stroke="#555" stroke-width="0.5"/>
<line x1="361.2" y1="825.1" x2="361.2" y2="826.1" stroke="#555" stroke-width="0.5"/>
<line x1="364.7" y1="895.5" x2="364.7" y2="894.5" stroke="#555" stroke-width="0.5"/>
<line x1="364.7" y1="825.1" x2="364.7" y2="826.1" stroke="#555" stroke-width="0.5"/>
<line x1="368.2" y1="895.5" x2="368.2" y2="894.5" stroke="#555" stroke-width="0.5"/>
<line x1="368.2" y1="825.1" x2="368.2" y2="826.1" stroke="#555" stroke-width="0.5"/>
<line x1="371.8" y1="895.5" x2="371.8" y2="894.5" stroke="#555" stroke-width="0.5"/>
<line x1="371.8" y1="825.1" x2="371.8" y2="826.1" stroke="#555" stroke-width="0.5"/>
<line x1="375.3" y1="895.5" x2="375.3" y2="894.5" stroke="#555" stroke-width="0.5"/>
<line x1="375.3" y1="825.1" x2="375.3" y2="826.1" stroke="#555" stroke-width="0.5"/>
<line x1="294.4" y1="829.5" x2="295.4" y2="829.5" stroke="#555" stroke-width="0.5"/>
<line x1="378.8" y1="829.5" x2="377.8" y2="829.5" stroke="#555" stroke-width="0.5"/>
<line x1="294.4" y1="833.9" x2="295.4" y2="833.9" stroke="#555" stroke-width="0.5"/>
<line x1="378.8" y1="833.9" x2="377.8" y2="833.9" stroke="#555" stroke-width="0.5"/>
<line x1="294.4" y1="838.3" x2="295.4" y2="838.3" stroke="#555" stroke-width="0.5"/>
<line x1="378.8" y1="838.3" x2="377.8" y2="838.3" stroke="#555" stroke-width="0.5"/>
<line x1="294.4" y1="842.7" x2="295.4" y2="842.7" stroke="#555" stroke-width="0.5"/>
<line x1="378.8" y1="842.7" x2="377.8" y2="842.7" stroke="#555" stroke-width="0.5"/>
<line x1="294.4" y1="847.1" x2="295.4" y2="847.1" stroke="#555" stroke-width="0.5"/>
<line x1="378.8" y1="847.1" x2="377.8" y2="847.1" stroke="#555" stroke-width="0.5"/>
<line x1="294.4" y1="851.5" x2="295.4" y2="851.5" stroke="#555" stroke-width="0.5"/>
<line x1="378.8" y1="851.5" x2="377.8" y2="851.5" stroke="#555" stroke-width="0.5"/>
<line x1="294.4" y1="855.9" x2="295.4" y2="855.9" stroke="#555" stroke-width="0.5"/>
<line x1="378.8" y1="855.9" x2="377.8" y2="855.9" stroke="#555" stroke-width="0.5"/>
<line x1="294.4" y1="860.3" x2="295.4" y2="860.3" stroke="#555" stroke-width="0.5"/>
<line x1="378.8" y1="860.3" x2="377.8" y2="860.3" stroke="#555" stroke-width="0.5"/>
<line x1="294.4" y1="864.7" x2="295.4" y2="864.7" stroke="#555" stroke-width="0.5"/>
<line x1="378.8" y1="864.7" x2="377.8" y2="864.7" stroke="#555" stroke-width="0.5"/>
<line x1="294.4" y1="869.1" x2="295.4" y2="869.1" stroke="#555" stroke-width="0.5"/>
<line x1="378.8" y1="869.1" x2="377.8" y2="869.1" stroke="#555" stroke-width="0.5"/>
<line x1="294.4" y1="873.5" x2="295.4" y2="873.5" stroke="#555" stroke-width="0.5"/>
<line x1="378.8" y1="873.5" x2="377.8" y2="873.5" stroke="#555" stroke-width="0.5"/>
<line x1="294.4" y1="877.9" x2="295.4" y2="877.9" stroke="#555" stroke-width="0.5"/>
<line x1="378.8" y1="877.9" x2="377.8" y2="877.9" stroke="#555" stroke-width="0.5"/>
<line x1="294.4" y1="882.3" x2="295.4" y2="882.3" stroke="#555" stroke-width="0.5"/>
<line x1="378.8" y1="882.3" x2="377.8" y2="882.3" stroke="#555" stroke-width="0.5"/>
<line x1="294.4" y1="886.7" x2="295.4" y2="886.7" stroke="#555" stroke-width="0.5"/>
<line x1="378.8" y1="886.7" x2="377.8" y2="886.7" stroke="#555" stroke-width="0.5"/>
<line x1="294.4" y1="891.1" x2="295.4" y2="891.1" stroke="#555" stroke-width="0.5"/>
<line x1="378.8" y1="891.1" x2="377.8" y2="891.1" stroke="#555" stroke-width="0.5"/>
<text x="291.7" y="831.6" text-anchor="end" font-size="6" fill="#555">1.5</text>
<text x="291.7" y="852.2" text-anchor="end" font-size="6" fill="#555">1.0</text>
<text x="291.7" y="873.1" text-anchor="end" font-size="6" fill="#555">0.5</text>
<text x="291.7" y="894.0" text-anchor="end" font-size="6" fill="#555">0.0</text>
<text x="294.8" y="902.8" text-anchor="middle" font-size="6" fill="#555">0.0</text>
<text x="322.6" y="902.8" text-anchor="middle" font-size="6" fill="#555">0.2</text>
<text x="350.1" y="902.8" text-anchor="middle" font-size="6" fill="#555">0.4</text>
<text x="378.3" y="902.8" text-anchor="middle" font-size="6" fill="#555">0.6</text>
<text x="336.5" y="910.3" text-anchor="middle" font-size="6" fill="#555">z (m)</text>
<text transform="translate(280.3,861) rotate(-90)" text-anchor="middle" font-size="6" fill="#555">x (m)</text>
<path d="M334.60,828.00 C335.72,828.30 338.80,828.95 341.30,829.80 C343.80,830.65 346.55,831.78 349.60,833.10 C352.65,834.42 357.38,836.23 359.60,837.70 C361.82,839.17 362.63,840.58 362.90,841.90 C363.17,843.22 362.73,844.35 361.20,845.60 C359.67,846.85 356.12,848.02 353.70,849.40 C351.28,850.78 348.18,852.45 346.70,853.90 C345.22,855.35 345.15,856.92 344.80,858.10 C344.45,859.28 344.50,859.90 344.60,861.00 C344.70,862.10 344.57,863.38 345.40,864.70 C346.23,866.02 347.65,867.52 349.60,868.90 C351.55,870.28 355.02,871.75 357.10,873.00 C359.18,874.25 361.07,875.50 362.10,876.40 C363.13,877.30 363.45,877.43 363.30,878.40 C363.15,879.37 363.20,880.73 361.20,882.20 C359.20,883.67 354.77,885.82 351.30,887.20 C347.83,888.58 343.18,889.75 340.40,890.50 C337.62,891.25 335.57,891.50 334.60,891.70" fill="none" stroke="#2020ff" stroke-width="1.9"/>
<path d="M334.60,828.00 C335.72,828.30 338.80,828.95 341.30,829.80 C343.80,830.65 346.97,831.85 349.60,833.10 C352.23,834.35 355.30,835.90 357.10,837.30 C358.90,838.70 360.13,840.25 360.40,841.50 C360.67,842.75 360.22,843.70 358.70,844.80 C357.18,845.90 353.93,846.85 351.30,848.10 C348.67,849.35 344.92,850.77 342.90,852.30 C340.88,853.83 339.95,855.85 339.20,857.30 C338.45,858.75 338.33,859.62 338.40,861.00 C338.47,862.38 338.57,864.15 339.60,865.60 C340.63,867.05 342.38,868.47 344.60,869.70 C346.82,870.93 350.55,872.03 352.90,873.00 C355.25,873.97 357.45,874.67 358.70,875.50 C359.95,876.33 360.53,876.88 360.40,878.00 C360.27,879.12 359.70,880.67 357.90,882.20 C356.10,883.73 352.52,885.82 349.60,887.20 C346.68,888.58 342.90,889.75 340.40,890.50 C337.90,891.25 335.57,891.50 334.60,891.70" fill="none" stroke="#ff2020" stroke-width="1.9"/>
<line x1="295.2" y1="828" x2="335" y2="828" stroke="#ff2020" stroke-width="1.5" stroke-dasharray="1.1 1"/>
<line x1="295.2" y1="891.7" x2="335" y2="891.7" stroke="#ff2020" stroke-width="1.5" stroke-dasharray="1.1 1"/>
<text x="301.7" y="864.1" font-size="8.7" font-weight="bold" font-style="italic" fill="#2a2af0" textLength="29.4" lengthAdjust="spacingAndGlyphs">Double slits</text>
<rect x="340" y="859.2" width="7.1" height="4" fill="#d0d0d8" stroke="#777" stroke-width="0.5"/>
<rect x="337.4" y="859.2" width="2.6" height="4" fill="#ffb0b0" stroke="#ff2020" stroke-width="1"/>
<circle cx="276.5" cy="904.5" r="1.1" fill="#999"/>
<circle cx="279.5" cy="904.5" r="1.1" fill="#999"/>
<circle cx="278.1" cy="906.9" r="1.1" fill="#999"/>
<circle cx="280.9" cy="906.7" r="1.1" fill="#999"/>
<circle cx="276.5" cy="908.7" r="1.1" fill="#999"/>
<circle cx="279.7" cy="909.3" r="1.1" fill="#999"/>
<text x="283.5" y="909.8" font-size="3.5" fill="#aaa">GPT</text>
<rect x="680.2" y="827.3" width="83.9" height="72.0" fill="none" stroke="#555" stroke-width="0.9"/>
<line x1="683.7" y1="899.3" x2="683.7" y2="898.3" stroke="#555" stroke-width="0.5"/>
<line x1="683.7" y1="827.3" x2="683.7" y2="828.3" stroke="#555" stroke-width="0.5"/>
<line x1="687.2" y1="899.3" x2="687.2" y2="898.3" stroke="#555" stroke-width="0.5"/>
<line x1="687.2" y1="827.3" x2="687.2" y2="828.3" stroke="#555" stroke-width="0.5"/>
<line x1="690.7" y1="899.3" x2="690.7" y2="898.3" stroke="#555" stroke-width="0.5"/>
<line x1="690.7" y1="827.3" x2="690.7" y2="828.3" stroke="#555" stroke-width="0.5"/>
<line x1="694.2" y1="899.3" x2="694.2" y2="898.3" stroke="#555" stroke-width="0.5"/>
<line x1="694.2" y1="827.3" x2="694.2" y2="828.3" stroke="#555" stroke-width="0.5"/>
<line x1="697.7" y1="899.3" x2="697.7" y2="898.3" stroke="#555" stroke-width="0.5"/>
<line x1="697.7" y1="827.3" x2="697.7" y2="828.3" stroke="#555" stroke-width="0.5"/>
<line x1="701.2" y1="899.3" x2="701.2" y2="898.3" stroke="#555" stroke-width="0.5"/>
<line x1="701.2" y1="827.3" x2="701.2" y2="828.3" stroke="#555" stroke-width="0.5"/>
<line x1="704.7" y1="899.3" x2="704.7" y2="898.3" stroke="#555" stroke-width="0.5"/>
<line x1="704.7" y1="827.3" x2="704.7" y2="828.3" stroke="#555" stroke-width="0.5"/>
<line x1="708.2" y1="899.3" x2="708.2" y2="897.5" stroke="#555" stroke-width="0.5"/>
<line x1="708.2" y1="827.3" x2="708.2" y2="829.0999999999999" stroke="#555" stroke-width="0.5"/>
<line x1="711.7" y1="899.3" x2="711.7" y2="898.3" stroke="#555" stroke-width="0.5"/>
<line x1="711.7" y1="827.3" x2="711.7" y2="828.3" stroke="#555" stroke-width="0.5"/>
<line x1="715.2" y1="899.3" x2="715.2" y2="898.3" stroke="#555" stroke-width="0.5"/>
<line x1="715.2" y1="827.3" x2="715.2" y2="828.3" stroke="#555" stroke-width="0.5"/>
<line x1="718.7" y1="899.3" x2="718.7" y2="898.3" stroke="#555" stroke-width="0.5"/>
<line x1="718.7" y1="827.3" x2="718.7" y2="828.3" stroke="#555" stroke-width="0.5"/>
<line x1="722.2" y1="899.3" x2="722.2" y2="898.3" stroke="#555" stroke-width="0.5"/>
<line x1="722.2" y1="827.3" x2="722.2" y2="828.3" stroke="#555" stroke-width="0.5"/>
<line x1="725.6" y1="899.3" x2="725.6" y2="898.3" stroke="#555" stroke-width="0.5"/>
<line x1="725.6" y1="827.3" x2="725.6" y2="828.3" stroke="#555" stroke-width="0.5"/>
<line x1="729.1" y1="899.3" x2="729.1" y2="898.3" stroke="#555" stroke-width="0.5"/>
<line x1="729.1" y1="827.3" x2="729.1" y2="828.3" stroke="#555" stroke-width="0.5"/>
<line x1="732.6" y1="899.3" x2="732.6" y2="898.3" stroke="#555" stroke-width="0.5"/>
<line x1="732.6" y1="827.3" x2="732.6" y2="828.3" stroke="#555" stroke-width="0.5"/>
<line x1="736.1" y1="899.3" x2="736.1" y2="897.5" stroke="#555" stroke-width="0.5"/>
<line x1="736.1" y1="827.3" x2="736.1" y2="829.0999999999999" stroke="#555" stroke-width="0.5"/>
<line x1="739.6" y1="899.3" x2="739.6" y2="898.3" stroke="#555" stroke-width="0.5"/>
<line x1="739.6" y1="827.3" x2="739.6" y2="828.3" stroke="#555" stroke-width="0.5"/>
<line x1="743.1" y1="899.3" x2="743.1" y2="898.3" stroke="#555" stroke-width="0.5"/>
<line x1="743.1" y1="827.3" x2="743.1" y2="828.3" stroke="#555" stroke-width="0.5"/>
<line x1="746.6" y1="899.3" x2="746.6" y2="898.3" stroke="#555" stroke-width="0.5"/>
<line x1="746.6" y1="827.3" x2="746.6" y2="828.3" stroke="#555" stroke-width="0.5"/>
<line x1="750.1" y1="899.3" x2="750.1" y2="898.3" stroke="#555" stroke-width="0.5"/>
<line x1="750.1" y1="827.3" x2="750.1" y2="828.3" stroke="#555" stroke-width="0.5"/>
<line x1="753.6" y1="899.3" x2="753.6" y2="898.3" stroke="#555" stroke-width="0.5"/>
<line x1="753.6" y1="827.3" x2="753.6" y2="828.3" stroke="#555" stroke-width="0.5"/>
<line x1="757.1" y1="899.3" x2="757.1" y2="898.3" stroke="#555" stroke-width="0.5"/>
<line x1="757.1" y1="827.3" x2="757.1" y2="828.3" stroke="#555" stroke-width="0.5"/>
<line x1="760.6" y1="899.3" x2="760.6" y2="898.3" stroke="#555" stroke-width="0.5"/>
<line x1="760.6" y1="827.3" x2="760.6" y2="828.3" stroke="#555" stroke-width="0.5"/>
<line x1="680.2" y1="831.8" x2="681.2" y2="831.8" stroke="#555" stroke-width="0.5"/>
<line x1="764.1" y1="831.8" x2="763.1" y2="831.8" stroke="#555" stroke-width="0.5"/>
<line x1="680.2" y1="836.3" x2="681.2" y2="836.3" stroke="#555" stroke-width="0.5"/>
<line x1="764.1" y1="836.3" x2="763.1" y2="836.3" stroke="#555" stroke-width="0.5"/>
<line x1="680.2" y1="840.8" x2="681.2" y2="840.8" stroke="#555" stroke-width="0.5"/>
<line x1="764.1" y1="840.8" x2="763.1" y2="840.8" stroke="#555" stroke-width="0.5"/>
<line x1="680.2" y1="845.3" x2="681.2" y2="845.3" stroke="#555" stroke-width="0.5"/>
<line x1="764.1" y1="845.3" x2="763.1" y2="845.3" stroke="#555" stroke-width="0.5"/>
<line x1="680.2" y1="849.8" x2="681.2" y2="849.8" stroke="#555" stroke-width="0.5"/>
<line x1="764.1" y1="849.8" x2="763.1" y2="849.8" stroke="#555" stroke-width="0.5"/>
<line x1="680.2" y1="854.3" x2="681.2" y2="854.3" stroke="#555" stroke-width="0.5"/>
<line x1="764.1" y1="854.3" x2="763.1" y2="854.3" stroke="#555" stroke-width="0.5"/>
<line x1="680.2" y1="858.8" x2="681.2" y2="858.8" stroke="#555" stroke-width="0.5"/>
<line x1="764.1" y1="858.8" x2="763.1" y2="858.8" stroke="#555" stroke-width="0.5"/>
<line x1="680.2" y1="863.3" x2="681.2" y2="863.3" stroke="#555" stroke-width="0.5"/>
<line x1="764.1" y1="863.3" x2="763.1" y2="863.3" stroke="#555" stroke-width="0.5"/>
<line x1="680.2" y1="867.8" x2="681.2" y2="867.8" stroke="#555" stroke-width="0.5"/>
<line x1="764.1" y1="867.8" x2="763.1" y2="867.8" stroke="#555" stroke-width="0.5"/>
<line x1="680.2" y1="872.3" x2="681.2" y2="872.3" stroke="#555" stroke-width="0.5"/>
<line x1="764.1" y1="872.3" x2="763.1" y2="872.3" stroke="#555" stroke-width="0.5"/>
<line x1="680.2" y1="876.8" x2="681.2" y2="876.8" stroke="#555" stroke-width="0.5"/>
<line x1="764.1" y1="876.8" x2="763.1" y2="876.8" stroke="#555" stroke-width="0.5"/>
<line x1="680.2" y1="881.3" x2="681.2" y2="881.3" stroke="#555" stroke-width="0.5"/>
<line x1="764.1" y1="881.3" x2="763.1" y2="881.3" stroke="#555" stroke-width="0.5"/>
<line x1="680.2" y1="885.8" x2="681.2" y2="885.8" stroke="#555" stroke-width="0.5"/>
<line x1="764.1" y1="885.8" x2="763.1" y2="885.8" stroke="#555" stroke-width="0.5"/>
<line x1="680.2" y1="890.3" x2="681.2" y2="890.3" stroke="#555" stroke-width="0.5"/>
<line x1="764.1" y1="890.3" x2="763.1" y2="890.3" stroke="#555" stroke-width="0.5"/>
<line x1="680.2" y1="894.8" x2="681.2" y2="894.8" stroke="#555" stroke-width="0.5"/>
<line x1="764.1" y1="894.8" x2="763.1" y2="894.8" stroke="#555" stroke-width="0.5"/>
<text x="676.9" y="833.0" text-anchor="end" font-size="6" fill="#555">1.5</text>
<text x="676.9" y="854.5" text-anchor="end" font-size="6" fill="#555">1.0</text>
<text x="676.9" y="875.3" text-anchor="end" font-size="6" fill="#555">0.5</text>
<text x="676.9" y="896.4" text-anchor="end" font-size="6" fill="#555">0.0</text>
<text x="680.7" y="904.5" text-anchor="middle" font-size="6" fill="#555">0.0</text>
<text x="708.6" y="904.5" text-anchor="middle" font-size="6" fill="#555">0.2</text>
<text x="736.2" y="904.5" text-anchor="middle" font-size="6" fill="#555">0.4</text>
<text x="763.5" y="904.5" text-anchor="middle" font-size="6" fill="#555">0.6</text>
<text x="721.6" y="911" text-anchor="middle" font-size="6" fill="#555">z (m)</text>
<text transform="translate(665.5,862) rotate(-90)" text-anchor="middle" font-size="6" fill="#555">x (m)</text>
<path d="M716.00,829.70 C717.48,829.92 722.02,830.10 724.90,831.00 C727.78,831.90 730.80,833.58 733.30,835.10 C735.80,836.62 738.45,838.63 739.90,840.10 C741.35,841.57 742.00,842.85 742.00,843.90 C742.00,844.95 741.63,845.57 739.90,846.40 C738.17,847.23 734.65,848.00 731.60,848.90 C728.55,849.80 724.37,850.63 721.60,851.80 C718.83,852.97 716.52,854.38 715.00,855.90 C713.48,857.42 712.98,859.48 712.50,860.90 C712.02,862.32 711.97,863.22 712.10,864.40 C712.23,865.58 712.27,866.72 713.30,868.00 C714.33,869.28 715.95,870.93 718.30,872.10 C720.65,873.27 724.35,874.10 727.40,875.00 C730.45,875.90 734.38,876.52 736.60,877.50 C738.82,878.48 740.28,879.78 740.70,880.90 C741.12,882.02 740.33,882.97 739.10,884.20 C737.87,885.43 735.67,886.92 733.30,888.30 C730.93,889.68 728.12,891.45 724.90,892.50 C721.68,893.55 715.82,894.25 714.00,894.60" fill="none" stroke="#2a2aff" stroke-width="1.15"/>
<path d="M716.00,829.70 C717.53,829.92 722.17,830.10 725.18,831.00 C728.18,831.90 731.36,833.58 734.03,835.10 C736.70,836.62 739.59,838.61 741.19,840.10 C742.79,841.59 743.55,842.94 743.61,844.03 C743.68,845.12 743.23,845.76 741.58,846.63 C739.93,847.51 736.57,848.35 733.70,849.30 C730.83,850.25 726.93,851.14 724.37,852.32 C721.81,853.51 719.72,854.95 718.33,856.41 C716.95,857.87 716.51,859.75 716.07,861.08 C715.63,862.41 715.57,863.24 715.70,864.40 C715.83,865.56 715.84,866.74 716.86,868.04 C717.87,869.35 719.57,871.06 721.81,872.24 C724.05,873.43 727.47,874.26 730.30,875.17 C733.13,876.07 736.76,876.71 738.77,877.69 C740.77,878.66 742.03,879.94 742.34,881.02 C742.66,882.11 741.99,882.97 740.67,884.20 C739.34,885.43 736.95,886.99 734.40,888.40 C731.85,889.81 728.73,891.60 725.37,892.63 C722.00,893.67 716.08,894.27 714.22,894.60" fill="none" stroke="#2070ff" stroke-width="1.15"/>
<path d="M716.00,829.70 C717.58,829.92 722.33,830.10 725.46,831.00 C728.58,831.90 731.93,833.58 734.77,835.10 C737.60,836.62 740.74,838.59 742.48,840.10 C744.22,841.61 745.09,843.04 745.22,844.17 C745.35,845.29 744.83,845.94 743.26,846.87 C741.69,847.79 738.49,848.70 735.80,849.70 C733.11,850.70 729.49,851.64 727.13,852.84 C724.78,854.05 722.92,855.52 721.67,856.92 C720.42,858.32 720.03,860.01 719.63,861.26 C719.24,862.50 719.17,863.26 719.30,864.40 C719.43,865.54 719.41,866.76 720.41,868.09 C721.41,869.42 723.19,871.18 725.32,872.39 C727.45,873.60 730.60,874.42 733.20,875.33 C735.80,876.25 739.14,876.91 740.93,877.88 C742.73,878.85 743.77,880.09 743.99,881.14 C744.21,882.20 743.65,882.97 742.23,884.20 C740.82,885.43 738.23,887.07 735.50,888.50 C732.77,889.93 729.34,891.75 725.83,892.77 C722.32,893.78 716.34,894.29 714.44,894.60" fill="none" stroke="#10a8ff" stroke-width="1.15"/>
<path d="M716.00,829.70 C717.62,829.92 722.48,830.10 725.73,831.00 C728.98,831.90 732.49,833.58 735.50,835.10 C738.51,836.62 741.88,838.57 743.77,840.10 C745.66,841.63 746.64,843.13 746.83,844.30 C747.03,845.47 746.42,846.13 744.93,847.10 C743.44,848.07 740.41,849.06 737.90,850.10 C735.39,851.14 732.05,852.14 729.90,853.37 C727.75,854.59 726.12,856.09 725.00,857.43 C723.88,858.78 723.55,860.27 723.20,861.43 C722.85,862.59 722.77,863.28 722.90,864.40 C723.03,865.52 722.98,866.78 723.97,868.13 C724.96,869.49 726.81,871.31 728.83,872.53 C730.86,873.76 733.72,874.58 736.10,875.50 C738.48,876.42 741.51,877.11 743.10,878.07 C744.69,879.03 745.52,880.24 745.63,881.27 C745.75,882.29 745.31,882.98 743.80,884.20 C742.29,885.42 739.52,887.15 736.60,888.60 C733.68,890.05 729.96,891.90 726.30,892.90 C722.64,893.90 716.61,894.32 714.67,894.60" fill="none" stroke="#10d8f0" stroke-width="1.15"/>
<path d="M716.00,829.70 C717.67,829.92 722.64,830.10 726.01,831.00 C729.38,831.90 733.06,833.58 736.23,835.10 C739.41,836.62 743.02,838.54 745.06,840.10 C747.09,841.66 748.19,843.23 748.44,844.43 C748.70,845.64 748.02,846.32 746.61,847.33 C745.20,848.34 742.32,849.41 740.00,850.50 C737.68,851.59 734.61,852.65 732.67,853.89 C730.72,855.13 729.32,856.66 728.33,857.94 C727.35,859.23 727.07,860.54 726.77,861.61 C726.46,862.69 726.37,863.31 726.50,864.40 C726.63,865.49 726.55,866.80 727.52,868.18 C728.50,869.56 730.43,871.43 732.34,872.68 C734.26,873.93 736.85,874.74 739.00,875.67 C741.15,876.60 743.89,877.30 745.27,878.26 C746.65,879.21 747.26,880.40 747.28,881.39 C747.29,882.38 746.96,882.98 745.37,884.20 C743.77,885.42 740.80,887.23 737.70,888.70 C734.60,890.17 730.57,892.05 726.77,893.03 C722.96,894.02 716.87,894.34 714.89,894.60" fill="none" stroke="#20e0a0" stroke-width="1.15"/>
<path d="M716.00,829.70 C717.71,829.92 722.79,830.10 726.29,831.00 C729.78,831.90 733.62,833.58 736.97,835.10 C740.31,836.62 744.16,838.52 746.34,840.10 C748.53,841.68 749.73,843.32 750.06,844.57 C750.38,845.81 749.61,846.51 748.29,847.57 C746.96,848.62 744.24,849.76 742.10,850.90 C739.96,852.04 737.17,853.15 735.43,854.41 C733.69,855.67 732.52,857.23 731.67,858.46 C730.82,859.69 730.59,860.80 730.33,861.79 C730.07,862.78 729.98,863.33 730.10,864.40 C730.22,865.47 730.12,866.82 731.08,868.22 C732.04,869.63 734.05,871.55 735.86,872.82 C737.66,874.09 739.97,874.90 741.90,875.83 C743.83,876.77 746.26,877.50 747.43,878.44 C748.60,879.39 749.01,880.55 748.92,881.51 C748.84,882.47 748.62,882.99 746.93,884.20 C745.25,885.41 742.08,887.31 738.80,888.80 C735.52,890.29 731.18,892.20 727.23,893.17 C723.29,894.13 717.13,894.36 715.11,894.60" fill="none" stroke="#40d840" stroke-width="1.15"/>
<path d="M716.00,829.70 C717.76,829.92 722.95,830.10 726.57,831.00 C730.18,831.90 734.19,833.58 737.70,835.10 C741.21,836.62 745.31,838.50 747.63,840.10 C749.96,841.70 751.28,843.42 751.67,844.70 C752.06,845.98 751.21,846.70 749.97,847.80 C748.72,848.90 746.16,850.11 744.20,851.30 C742.24,852.49 739.73,853.66 738.20,854.93 C736.67,856.21 735.72,857.79 735.00,858.97 C734.28,860.14 734.12,861.06 733.90,861.97 C733.68,862.87 733.58,863.35 733.70,864.40 C733.82,865.45 733.69,866.84 734.63,868.27 C735.58,869.69 737.67,871.68 739.37,872.97 C741.06,874.26 743.09,875.06 744.80,876.00 C746.51,876.94 748.64,877.69 749.60,878.63 C750.56,879.57 750.75,880.71 750.57,881.63 C750.38,882.56 750.28,882.99 748.50,884.20 C746.72,885.41 743.37,887.38 739.90,888.90 C736.43,890.42 731.79,892.35 727.70,893.30 C723.61,894.25 717.39,894.38 715.33,894.60" fill="none" stroke="#a0e020" stroke-width="1.15"/>
<path d="M716.00,829.70 C717.81,829.92 723.11,830.10 726.84,831.00 C730.58,831.90 734.75,833.58 738.43,835.10 C742.11,836.62 746.45,838.48 748.92,840.10 C751.40,841.72 752.82,843.51 753.28,844.83 C753.73,846.16 752.81,846.89 751.64,848.03 C750.48,849.18 748.08,850.46 746.30,851.70 C744.52,852.94 742.29,854.16 740.97,855.46 C739.64,856.75 738.92,858.36 738.33,859.48 C737.75,860.59 737.64,861.32 737.47,862.14 C737.29,862.96 737.18,863.37 737.30,864.40 C737.42,865.43 737.26,866.86 738.19,868.31 C739.12,869.76 741.29,871.80 742.88,873.11 C744.46,874.42 746.22,875.21 747.70,876.17 C749.18,877.12 751.01,877.89 751.77,878.82 C752.52,879.75 752.49,880.86 752.21,881.76 C751.93,882.65 751.94,882.99 750.07,884.20 C748.20,885.41 744.65,887.46 741.00,889.00 C737.35,890.54 732.41,892.50 728.17,893.43 C723.93,894.37 717.66,894.41 715.56,894.60" fill="none" stroke="#f0e020" stroke-width="1.15"/>
<path d="M716.00,829.70 C717.85,829.92 723.26,830.10 727.12,831.00 C730.98,831.90 735.32,833.58 739.17,835.10 C743.01,836.62 747.59,838.46 750.21,840.10 C752.83,841.74 754.37,843.61 754.89,844.97 C755.41,846.33 754.40,847.08 753.32,848.27 C752.24,849.46 750.00,850.81 748.40,852.10 C746.80,853.39 744.86,854.66 743.73,855.98 C742.61,857.29 742.12,858.93 741.67,859.99 C741.22,861.05 741.16,861.59 741.03,862.32 C740.91,863.06 740.78,863.39 740.90,864.40 C741.02,865.41 740.83,866.88 741.74,868.36 C742.66,869.83 744.91,871.93 746.39,873.26 C747.86,874.59 749.34,875.37 750.60,876.33 C751.86,877.29 753.39,878.09 753.93,879.01 C754.48,879.94 754.24,881.01 753.86,881.88 C753.47,882.74 753.59,883.00 751.63,884.20 C749.67,885.40 745.93,887.54 742.10,889.10 C738.27,890.66 733.02,892.65 728.63,893.57 C724.25,894.48 717.92,894.43 715.78,894.60" fill="none" stroke="#ffa020" stroke-width="1.15"/>
<path d="M716.00,829.70 C717.90,829.92 723.42,830.10 727.40,831.00 C731.38,831.90 735.88,833.58 739.90,835.10 C743.92,836.62 748.73,838.43 751.50,840.10 C754.27,841.77 755.92,843.70 756.50,845.10 C757.08,846.50 756.00,847.27 755.00,848.50 C754.00,849.73 751.92,851.17 750.50,852.50 C749.08,853.83 747.42,855.17 746.50,856.50 C745.58,857.83 745.32,859.50 745.00,860.50 C744.68,861.50 744.68,861.85 744.60,862.50 C744.52,863.15 744.38,863.42 744.50,864.40 C744.62,865.38 744.40,866.90 745.30,868.40 C746.20,869.90 748.53,872.05 749.90,873.40 C751.27,874.75 752.47,875.53 753.50,876.50 C754.53,877.47 755.77,878.28 756.10,879.20 C756.43,880.12 755.98,881.17 755.50,882.00 C755.02,882.83 755.25,883.00 753.20,884.20 C751.15,885.40 747.22,887.62 743.20,889.20 C739.18,890.78 733.63,892.80 729.10,893.70 C724.57,894.60 718.18,894.45 716.00,894.60" fill="none" stroke="#ff2a10" stroke-width="1.15"/>
<line x1="681" y1="829.7" x2="717" y2="829.7" stroke="#ff3a20" stroke-width="1.2" stroke-dasharray="1 0.9"/>
<line x1="681" y1="894.6" x2="717" y2="894.6" stroke="#ff3a20" stroke-width="1.2" stroke-dasharray="1 0.9"/>
<rect x="711.2" y="862.9" width="36.6" height="3.2" rx="1.4" fill="#b8c8e8" stroke="#3050a0" stroke-width="0.8"/>
<rect x="712.6" y="864.1" width="1.6" height="0.8" fill="#fff"/>
<rect x="715.3" y="864.1" width="1.6" height="0.8" fill="#fff"/>
<rect x="718.0" y="864.1" width="1.6" height="0.8" fill="#fff"/>
<rect x="720.7" y="864.1" width="1.6" height="0.8" fill="#fff"/>
<rect x="723.4" y="864.1" width="1.6" height="0.8" fill="#fff"/>
<rect x="726.1" y="864.1" width="1.6" height="0.8" fill="#fff"/>
<rect x="728.8" y="864.1" width="1.6" height="0.8" fill="#fff"/>
<rect x="731.5" y="864.1" width="1.6" height="0.8" fill="#fff"/>
<rect x="734.2" y="864.1" width="1.6" height="0.8" fill="#fff"/>
<rect x="736.9" y="864.1" width="1.6" height="0.8" fill="#fff"/>
<rect x="739.6" y="864.1" width="1.6" height="0.8" fill="#fff"/>
<rect x="742.3" y="864.1" width="1.6" height="0.8" fill="#fff"/>
<rect x="745.0" y="864.1" width="1.6" height="0.8" fill="#fff"/>
<text x="690.9" y="879.8" font-size="9.2" font-weight="bold" font-style="italic" fill="#3030f0" textLength="23" lengthAdjust="spacingAndGlyphs">Ten slits</text>
<line x1="772.5" y1="826.4" x2="772.5" y2="898.2" stroke="#aaa" stroke-width="0.8"/>
<line x1="768.1" y1="828.1" x2="775.9" y2="828.1" stroke="#ff2020" stroke-width="1" opacity="0.6"/>
<line x1="768.1" y1="835.0" x2="775.9" y2="835.0" stroke="#ff9020" stroke-width="1" opacity="0.6"/>
<line x1="768.1" y1="841.8" x2="775.9" y2="841.8" stroke="#f0e020" stroke-width="1" opacity="0.6"/>
<line x1="768.1" y1="848.7" x2="775.9" y2="848.7" stroke="#f0f040" stroke-width="1" opacity="0.6"/>
<line x1="768.1" y1="855.5" x2="775.9" y2="855.5" stroke="#b0e040" stroke-width="1" opacity="0.6"/>
<line x1="768.1" y1="862.4" x2="775.9" y2="862.4" stroke="#40d040" stroke-width="1" opacity="0.6"/>
<line x1="768.1" y1="869.3" x2="775.9" y2="869.3" stroke="#20d0a0" stroke-width="1" opacity="0.6"/>
<line x1="768.1" y1="876.1" x2="775.9" y2="876.1" stroke="#20d0f0" stroke-width="1" opacity="0.6"/>
<line x1="768.1" y1="883.0" x2="775.9" y2="883.0" stroke="#40d0ff" stroke-width="1" opacity="0.6"/>
<line x1="768.1" y1="889.8" x2="775.9" y2="889.8" stroke="#60a0ff" stroke-width="1" opacity="0.6"/>
<line x1="768.1" y1="896.7" x2="775.9" y2="896.7" stroke="#6060ff" stroke-width="1" opacity="0.6"/>
<text x="766.8" y="829.4" font-size="4" fill="#888">8.5</text>
<text x="766.8" y="850.0" font-size="4" fill="#888">8.0</text>
<text x="766.8" y="863.7" font-size="4" fill="#888">7.5</text>
<text x="766.8" y="884.3" font-size="4" fill="#888">7.0</text>
<text x="766.8" y="898.0" font-size="4" fill="#888">6.5</text>
<text x="775.4" y="864.8" font-family="Liberation Serif" font-size="13.5" font-style="italic" fill="#222">γ</text>
<circle cx="662.5" cy="905.5" r="1.1" fill="#999"/>
<circle cx="665.5" cy="905.5" r="1.1" fill="#999"/>
<circle cx="664.1" cy="907.9" r="1.1" fill="#999"/>
<circle cx="666.9" cy="907.7" r="1.1" fill="#999"/>
<circle cx="662.5" cy="909.7" r="1.1" fill="#999"/>
<circle cx="665.7" cy="910.3" r="1.1" fill="#999"/>
<text x="669.5" y="910.8" font-size="3.5" fill="#aaa">GPT</text>
</svg></body></html>
